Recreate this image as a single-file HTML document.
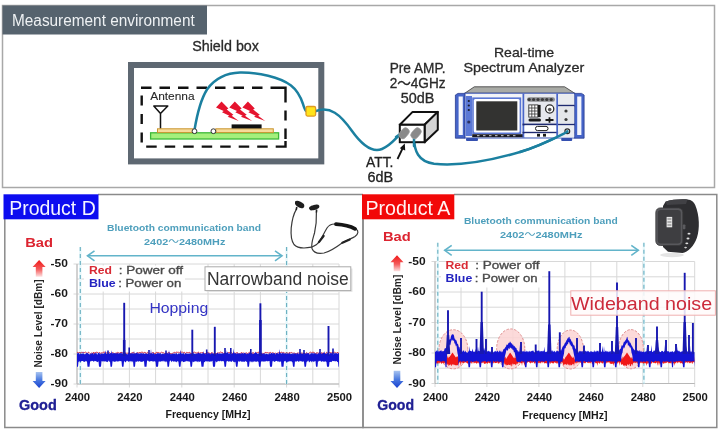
<!DOCTYPE html>
<html><head><meta charset="utf-8"><title>Measurement environment</title>
<style>
html,body{margin:0;padding:0;background:#fff;}
body{width:720px;height:430px;overflow:hidden;}
svg{display:block;font-family:"Liberation Sans","Noto Sans CJK JP",sans-serif;}
</style></head><body>
<svg width="720" height="430" viewBox="0 0 720 430">
<defs>
<linearGradient id="guL" x1="0" y1="0" x2="0" y2="1"><stop offset="0" stop-color="#f01818"/><stop offset="0.55" stop-color="#f45a5a"/><stop offset="1" stop-color="#fde0e0"/></linearGradient>
<linearGradient id="gdL" x1="0" y1="0" x2="0" y2="1"><stop offset="0" stop-color="#a8c4f0"/><stop offset="0.5" stop-color="#4a7ae0"/><stop offset="1" stop-color="#1840d0"/></linearGradient>
<linearGradient id="guR" x1="0" y1="0" x2="0" y2="1"><stop offset="0" stop-color="#f01818"/><stop offset="0.55" stop-color="#f45a5a"/><stop offset="1" stop-color="#fde0e0"/></linearGradient>
<linearGradient id="gdR" x1="0" y1="0" x2="0" y2="1"><stop offset="0" stop-color="#a8c4f0"/><stop offset="0.5" stop-color="#4a7ae0"/><stop offset="1" stop-color="#1840d0"/></linearGradient>
</defs>
<rect width="720" height="430" fill="#fff"/>
<rect x="2.5" y="5.5" width="712" height="182" fill="#fff" stroke="#a8a8a8" stroke-width="1.5"/>
<rect x="2.5" y="5.5" width="204.5" height="29" fill="#56636e"/>
<text x="12" y="25.6" font-size="16" fill="#eef1f3" textLength="182.7" lengthAdjust="spacingAndGlyphs">Measurement environment</text>
<text x="192.2" y="51.3" font-size="14" fill="#2a2a2a" textLength="66.8" lengthAdjust="spacingAndGlyphs" stroke="#2a2a2a" stroke-width="0.3">Shield box</text>
<rect x="131" y="65" width="190.3" height="96.4" fill="#fff" stroke="#5e6872" stroke-width="6"/>
<path d="M141.0,87.8 H151.5 M159.5,87.8 H170.0 M178.0,87.8 H188.5 M196.5,87.8 H207.0 M215.0,87.8 H225.5 M233.5,87.8 H244.0 M252.0,87.8 H262.5 M270.5,87.8 H285.5 V102.4 M285.5,110.5 V120.5 M285.5,128.5 V139 M146.2,146.6 H156.7 M164.7,146.6 H175.2 M183.2,146.6 H193.7 M201.7,146.6 H212.2 M220.2,146.6 H230.7 M238.7,146.6 H249.2 M257.2,146.6 H267.7 M275.7,146.6 H285.5 V141 M141.7,95.5 V105.5 M141.7,114 V124 M141.7,132.5 V142.5" fill="none" stroke="#111" stroke-width="2.4"/>
<text x="150.2" y="99.8" font-size="11" fill="#2a2a2a" textLength="44.4" lengthAdjust="spacingAndGlyphs" stroke="#2a2a2a" stroke-width="0.1">Antenna</text>
<path d="M153.8,106 L167.8,106 L160.5,113.5 Z M160.5,113.5 L160.5,128.8" fill="none" stroke="#111" stroke-width="1.5" stroke-linejoin="round"/>
<rect x="150.6" y="132.8" width="128" height="6.2" fill="#a4f07c" stroke="#3db83a" stroke-width="1.3"/>
<rect x="157.5" y="128.8" width="35.5" height="3.8" fill="#f7da9a" stroke="#c9952e" stroke-width="1"/>
<rect x="215.8" y="128.8" width="57.5" height="3.8" fill="#f7da9a" stroke="#c9952e" stroke-width="1"/>
<rect x="231.6" y="124.4" width="30" height="4" fill="#111"/>
<polygon points="216.0,107.6 221.5,101.6 228.4,108.4 226.7,109.5 233.4,114.8 231.7,115.8 238.8,121.0 227.6,116.8 229.3,115.7 222.0,112.2 223.7,111.1" fill="#e5142e"/>
<polygon points="229.3,107.6 234.8,101.6 241.7,108.4 240.0,109.5 246.7,114.8 245.0,115.8 252.1,121.0 240.9,116.8 242.6,115.7 235.3,112.2 237.0,111.1" fill="#e5142e"/>
<polygon points="242.4,107.6 247.9,101.6 254.8,108.4 253.1,109.5 259.8,114.8 258.1,115.8 265.2,121.0 254.0,116.8 255.7,115.7 248.4,112.2 250.1,111.1" fill="#e5142e"/>
<path d="M194.5,130 C196.8,116 199.8,101 207,89.5 C215,78.5 226,73 240,72.6 C258,72.3 280,77 291,85.5 C297.5,90.5 301,98 303,104 C304.2,108 305,111 307,111.6" fill="none" stroke="#1b80a0" stroke-width="2.5" stroke-linecap="round"/>
<path d="M316,111 C330,106 340,114 352,131 C362,145 372,153 382,149 C392,145 396,137 402,133" fill="none" stroke="#1b80a0" stroke-width="2.5" stroke-linecap="round"/>
<path d="M413.8,137 C414.3,151 418,161.5 434,163.8 C462,166.5 498,158.5 520,152 C540,146 555,138 567,132" fill="none" stroke="#1b80a0" stroke-width="2.5" stroke-linecap="round"/>
<circle cx="194.5" cy="131.2" r="2.4" fill="#fff" stroke="#333" stroke-width="1"/>
<circle cx="213.4" cy="131.2" r="2.4" fill="#fff" stroke="#333" stroke-width="1"/>
<rect x="306" y="106.5" width="9.6" height="9.6" rx="1.5" fill="#ffe41a" stroke="#e09a20" stroke-width="1.3"/>
<text x="417.6" y="72.6" font-size="14.2" fill="#2a2a2a" text-anchor="middle" textLength="55.9" lengthAdjust="spacingAndGlyphs" font-family="Liberation Sans, Noto Sans CJK JP, sans-serif" stroke="#2a2a2a" stroke-width="0.3">Pre AMP.</text>
<text x="417.6" y="87.6" font-size="14.2" fill="#2a2a2a" text-anchor="middle" textLength="55.9" lengthAdjust="spacingAndGlyphs" font-family="Liberation Sans, Noto Sans CJK JP, sans-serif" stroke="#2a2a2a" stroke-width="0.3">2～4GHz</text>
<text x="417.6" y="102.7" font-size="14.2" fill="#2a2a2a" text-anchor="middle" textLength="33.6" lengthAdjust="spacingAndGlyphs" font-family="Liberation Sans, Noto Sans CJK JP, sans-serif" stroke="#2a2a2a" stroke-width="0.3">50dB</text>
<text x="524" y="56.8" font-size="13.5" fill="#2a2a2a" text-anchor="middle" textLength="60.1" lengthAdjust="spacingAndGlyphs" stroke="#2a2a2a" stroke-width="0.3">Real-time</text>
<text x="523.8" y="71.6" font-size="13.5" fill="#2a2a2a" text-anchor="middle" textLength="120.8" lengthAdjust="spacingAndGlyphs" stroke="#2a2a2a" stroke-width="0.3">Spectrum Analyzer</text>
<text x="366.0" y="166.8" font-size="14" fill="#222" textLength="27.4" lengthAdjust="spacingAndGlyphs" stroke="#222" stroke-width="0.3">ATT.</text>
<text x="367.5" y="181.6" font-size="14" fill="#222" textLength="25.6" lengthAdjust="spacingAndGlyphs" stroke="#222" stroke-width="0.3">6dB</text>
<path d="M412.6,111.9 L437.8,111.9 L424.6,124.8 L399.8,124.8 Z" fill="#fff" stroke="#111" stroke-width="2" stroke-linejoin="round"/>
<path d="M424.6,124.8 L437.8,111.9 L437.8,129.8 L424.6,142.2 Z" fill="#d4d4d4" stroke="#111" stroke-width="2" stroke-linejoin="round"/>
<rect x="399.8" y="124.8" width="24.8" height="17.4" fill="#fff" stroke="#111" stroke-width="2"/>
<path d="M396,137 C398,135.5 400,134 403,133" fill="none" stroke="#1b80a0" stroke-width="2.5" stroke-linecap="round"/>
<path d="M414.5,134 C414,138 413.9,142 414,146" fill="none" stroke="#1b80a0" stroke-width="2.5" stroke-linecap="round"/>
<rect x="400.3" y="127.3" width="7.6" height="12" rx="3.8" fill="#8a8a8a" stroke="#a0a0a0" stroke-width="0.6" transform="rotate(40 404.1 133.3)"/>
<rect x="412.2" y="127.3" width="7.6" height="12" rx="3.8" fill="#8a8a8a" stroke="#a0a0a0" stroke-width="0.6" transform="rotate(40 416 133.3)"/>
<path d="M397.5,159 L403.5,146.5" stroke="#111" stroke-width="1.8"/>
<path d="M404.8,143.5 L399.8,148.2 L405.2,150.4 Z" fill="#111"/>
<g>
<path d="M474.3,86.8 L564.6,86.8 L574.6,93.2 L464.8,93.2 Z" fill="#a9aba6" stroke="#4a4a4a" stroke-width="0.9" stroke-linejoin="round"/>
<rect x="464.8" y="93.2" width="109.8" height="44.8" fill="#f2f4f8" stroke="#3a56b8" stroke-width="1"/>
<path d="M455.4,95 L458,93.4 L464.8,93.4 L464.8,138.2 L455.4,138.2 Z" fill="#4564c8" stroke="#2a3c90" stroke-width="0.8"/>
<rect x="458.6" y="96.5" width="4.2" height="38.5" fill="#f4f6fc"/>
<path d="M574.6,93.4 L581.5,93.4 L584.1,95 L584.1,138.2 L574.6,138.2 Z" fill="#4564c8" stroke="#2a3c90" stroke-width="0.8"/>
<rect x="577.2" y="96.5" width="4.2" height="38.5" fill="#f4f6fc"/>
<rect x="465.6" y="96" width="6.4" height="40" fill="#5b78d6"/>
<circle cx="468.8" cy="101" r="1.1" fill="#1a1a2a"/><circle cx="468.8" cy="105.5" r="1.1" fill="#1a1a2a"/><circle cx="468.8" cy="110" r="1.1" fill="#1a1a2a"/><circle cx="468.8" cy="122" r="1.6" fill="#2a3060"/>
<rect x="472.2" y="97.4" width="49" height="36.6" fill="#5a76d4"/>
<rect x="473.8" y="99" width="45.8" height="33.4" rx="1.5" fill="#fff"/>
<rect x="476.3" y="101.3" width="41" height="29.2" fill="#333331"/>
<rect x="472.2" y="134.2" width="51" height="3" fill="#1a1a22"/>
<path d="M477,135.7 h2.5 M483,135.7 h2.5 M489,135.7 h2.5 M495,135.7 h2.5 M501,135.7 h2.5 M507,135.7 h2.5 M513,135.7 h2.5" stroke="#e8e8e8" stroke-width="0.9"/>
<rect x="522.5" y="93.6" width="2" height="44" fill="#4a66c8"/>
<rect x="524.5" y="94.2" width="32" height="30" fill="#e6e8ee"/>
<rect x="527" y="97.3" width="28" height="4.4" rx="2.2" fill="#8a8c90"/>
<circle cx="529.2" cy="99.5" r="1.6" fill="#3a3a3a"/><circle cx="533.6" cy="99.5" r="1.6" fill="#3a3a3a"/><circle cx="538" cy="99.5" r="1.6" fill="#3a3a3a"/><circle cx="542.4" cy="99.5" r="1.6" fill="#3a3a3a"/><circle cx="546.8" cy="99.5" r="1.6" fill="#3a3a3a"/><circle cx="551.2" cy="99.5" r="1.6" fill="#3a3a3a"/>
<rect x="528.8" y="104.9" width="9" height="12.2" fill="#fff" stroke="#333" stroke-width="0.9"/>
<path d="M531.8,105 v12 M534.8,105 v12 M528.8,108 h9 M528.8,111 h9 M528.8,114 h9" stroke="#333" stroke-width="0.8"/>
<rect x="538" y="104.9" width="2.6" height="12.2" fill="#1a1a1a"/>
<circle cx="549.7" cy="109" r="4.1" fill="#fff" stroke="#2a2a2a" stroke-width="1.3"/>
<circle cx="549.7" cy="109.6" r="1.8" fill="#555"/>
<rect x="528.5" y="118.6" width="12.5" height="3" rx="1.5" fill="#1a1a1a"/>
<path d="M545.5,120 h8 M549.5,117.3 v5.4" stroke="#1a1a1a" stroke-width="1.8"/>
<rect x="522.5" y="123.6" width="52" height="1.8" fill="#1e2a70"/>
<rect x="524.5" y="125.4" width="32" height="6.6" fill="#fff"/>
<rect x="535.5" y="126.4" width="12.5" height="4.2" rx="2" fill="#fff" stroke="#1a1a1a" stroke-width="1"/>
<rect x="522.5" y="131.8" width="52" height="1.6" fill="#1e2a70"/>
<rect x="524.5" y="133.4" width="32" height="3.6" fill="#fff"/>
<rect x="537" y="133.8" width="3" height="2.8" fill="#1a1a1a"/><rect x="543" y="133.8" width="3" height="2.8" fill="#1a1a1a"/>
<rect x="556.3" y="93.6" width="1.8" height="44" fill="#4a66c8"/>
<rect x="558.1" y="94.2" width="16.2" height="11" fill="#e9ebef"/>
<rect x="558.1" y="104.8" width="16.2" height="1.6" fill="#1e2a70"/>
<rect x="558.1" y="106.4" width="16.2" height="17.2" fill="#e4e6ea"/>
<circle cx="566" cy="111" r="1.6" fill="#3a3a3a"/><circle cx="566" cy="119.5" r="1.6" fill="#3a3a3a"/>
<rect x="558.1" y="125.4" width="16.2" height="12" fill="#eceef2"/>
<circle cx="567.3" cy="131.2" r="2.4" fill="#fff" stroke="#2a2a2a" stroke-width="1.2"/>
<rect x="466" y="138" width="12" height="3" rx="1" fill="#3550b0"/><rect x="561.2" y="138" width="11" height="3" rx="1" fill="#3550b0"/>
</g>
<path d="M520,152 C540,146 555,138 567,132" fill="none" stroke="#1b80a0" stroke-width="2.5" stroke-linecap="round"/>
<circle cx="567.3" cy="131.4" r="1.3" fill="#1b80a0"/>
<path d="M4.8,219 L4.8,427.6 L363,427.6 L363,219" fill="none" stroke="#8a8a8a" stroke-width="1.5"/>
<path d="M98,194.6 L363,194.6" fill="none" stroke="#8a8a8a" stroke-width="1.5"/>
<path d="M363,219 L363,427.6 L716.8,427.6 L716.8,194.6 L454,194.6" fill="none" stroke="#8a8a8a" stroke-width="1.5"/>
<rect x="3.5" y="194.3" width="95" height="25" fill="#0c0cf0"/>
<text x="9.2" y="215.3" font-size="20.5" fill="#f4f4ff" textLength="86.5" lengthAdjust="spacingAndGlyphs">Product D</text>
<rect x="362" y="194.3" width="92.3" height="25" fill="#f20808"/>
<text x="365.4" y="215.3" font-size="20.5" fill="#fff4f4" textLength="85" lengthAdjust="spacingAndGlyphs">Product A</text>
<line x1="77.0" y1="264.0" x2="77.0" y2="387.5" stroke="#d8d8d8" stroke-width="1"/>
<line x1="103.2" y1="264.0" x2="103.2" y2="384.0" stroke="#d8d8d8" stroke-width="1"/>
<line x1="129.4" y1="264.0" x2="129.4" y2="387.5" stroke="#d8d8d8" stroke-width="1"/>
<line x1="155.6" y1="264.0" x2="155.6" y2="384.0" stroke="#d8d8d8" stroke-width="1"/>
<line x1="181.8" y1="264.0" x2="181.8" y2="387.5" stroke="#d8d8d8" stroke-width="1"/>
<line x1="208.0" y1="264.0" x2="208.0" y2="384.0" stroke="#d8d8d8" stroke-width="1"/>
<line x1="234.2" y1="264.0" x2="234.2" y2="387.5" stroke="#d8d8d8" stroke-width="1"/>
<line x1="260.4" y1="264.0" x2="260.4" y2="384.0" stroke="#d8d8d8" stroke-width="1"/>
<line x1="286.6" y1="264.0" x2="286.6" y2="387.5" stroke="#d8d8d8" stroke-width="1"/>
<line x1="312.8" y1="264.0" x2="312.8" y2="384.0" stroke="#d8d8d8" stroke-width="1"/>
<line x1="339.0" y1="264.0" x2="339.0" y2="387.5" stroke="#d8d8d8" stroke-width="1"/>
<line x1="73.5" y1="264.0" x2="339.0" y2="264.0" stroke="#d8d8d8" stroke-width="1"/>
<line x1="77.0" y1="279.0" x2="339.0" y2="279.0" stroke="#d8d8d8" stroke-width="1"/>
<line x1="73.5" y1="294.0" x2="339.0" y2="294.0" stroke="#d8d8d8" stroke-width="1"/>
<line x1="77.0" y1="309.0" x2="339.0" y2="309.0" stroke="#d8d8d8" stroke-width="1"/>
<line x1="73.5" y1="324.0" x2="339.0" y2="324.0" stroke="#d8d8d8" stroke-width="1"/>
<line x1="77.0" y1="339.0" x2="339.0" y2="339.0" stroke="#d8d8d8" stroke-width="1"/>
<line x1="73.5" y1="354.0" x2="339.0" y2="354.0" stroke="#d8d8d8" stroke-width="1"/>
<line x1="77.0" y1="369.0" x2="339.0" y2="369.0" stroke="#d8d8d8" stroke-width="1"/>
<line x1="73.5" y1="384.0" x2="339.0" y2="384.0" stroke="#d8d8d8" stroke-width="1"/>
<line x1="77.0" y1="264.0" x2="77.0" y2="384.0" stroke="#b8b8b8" stroke-width="1"/>
<line x1="77.0" y1="384.0" x2="339.0" y2="384.0" stroke="#b8b8b8" stroke-width="1"/>
<text x="67.8" y="267.4" font-size="11.5" fill="#1a1a1a" font-weight="bold" text-anchor="end" textLength="17.3" lengthAdjust="spacingAndGlyphs">-50</text>
<text x="67.8" y="297.4" font-size="11.5" fill="#1a1a1a" font-weight="bold" text-anchor="end" textLength="17.3" lengthAdjust="spacingAndGlyphs">-60</text>
<text x="67.8" y="327.4" font-size="11.5" fill="#1a1a1a" font-weight="bold" text-anchor="end" textLength="17.3" lengthAdjust="spacingAndGlyphs">-70</text>
<text x="67.8" y="357.4" font-size="11.5" fill="#1a1a1a" font-weight="bold" text-anchor="end" textLength="17.3" lengthAdjust="spacingAndGlyphs">-80</text>
<text x="67.8" y="387.4" font-size="11.5" fill="#1a1a1a" font-weight="bold" text-anchor="end" textLength="17.3" lengthAdjust="spacingAndGlyphs">-90</text>
<text x="77.5" y="401.3" font-size="11.5" fill="#1a1a1a" font-weight="bold" text-anchor="middle" textLength="25.2" lengthAdjust="spacingAndGlyphs">2400</text>
<text x="129.9" y="401.3" font-size="11.5" fill="#1a1a1a" font-weight="bold" text-anchor="middle" textLength="25.2" lengthAdjust="spacingAndGlyphs">2420</text>
<text x="182.3" y="401.3" font-size="11.5" fill="#1a1a1a" font-weight="bold" text-anchor="middle" textLength="25.2" lengthAdjust="spacingAndGlyphs">2440</text>
<text x="234.7" y="401.3" font-size="11.5" fill="#1a1a1a" font-weight="bold" text-anchor="middle" textLength="25.2" lengthAdjust="spacingAndGlyphs">2460</text>
<text x="287.1" y="401.3" font-size="11.5" fill="#1a1a1a" font-weight="bold" text-anchor="middle" textLength="25.2" lengthAdjust="spacingAndGlyphs">2480</text>
<text x="339.5" y="401.3" font-size="11.5" fill="#1a1a1a" font-weight="bold" text-anchor="middle" textLength="25.2" lengthAdjust="spacingAndGlyphs">2500</text>
<text x="208.0" y="417.5" font-size="10.5" fill="#1a1a1a" font-weight="bold" text-anchor="middle" textLength="85.1" lengthAdjust="spacingAndGlyphs">Frequency [MHz]</text>
<line x1="435.0" y1="261.5" x2="435.0" y2="387.0" stroke="#d8d8d8" stroke-width="1"/>
<line x1="461.0" y1="261.5" x2="461.0" y2="383.5" stroke="#d8d8d8" stroke-width="1"/>
<line x1="486.9" y1="261.5" x2="486.9" y2="387.0" stroke="#d8d8d8" stroke-width="1"/>
<line x1="512.9" y1="261.5" x2="512.9" y2="383.5" stroke="#d8d8d8" stroke-width="1"/>
<line x1="538.9" y1="261.5" x2="538.9" y2="387.0" stroke="#d8d8d8" stroke-width="1"/>
<line x1="564.9" y1="261.5" x2="564.9" y2="383.5" stroke="#d8d8d8" stroke-width="1"/>
<line x1="590.8" y1="261.5" x2="590.8" y2="387.0" stroke="#d8d8d8" stroke-width="1"/>
<line x1="616.8" y1="261.5" x2="616.8" y2="383.5" stroke="#d8d8d8" stroke-width="1"/>
<line x1="642.8" y1="261.5" x2="642.8" y2="387.0" stroke="#d8d8d8" stroke-width="1"/>
<line x1="668.7" y1="261.5" x2="668.7" y2="383.5" stroke="#d8d8d8" stroke-width="1"/>
<line x1="694.7" y1="261.5" x2="694.7" y2="387.0" stroke="#d8d8d8" stroke-width="1"/>
<line x1="431.5" y1="261.5" x2="694.7" y2="261.5" stroke="#d8d8d8" stroke-width="1"/>
<line x1="435.0" y1="276.8" x2="694.7" y2="276.8" stroke="#d8d8d8" stroke-width="1"/>
<line x1="431.5" y1="292.0" x2="694.7" y2="292.0" stroke="#d8d8d8" stroke-width="1"/>
<line x1="435.0" y1="307.2" x2="694.7" y2="307.2" stroke="#d8d8d8" stroke-width="1"/>
<line x1="431.5" y1="322.5" x2="694.7" y2="322.5" stroke="#d8d8d8" stroke-width="1"/>
<line x1="435.0" y1="337.8" x2="694.7" y2="337.8" stroke="#d8d8d8" stroke-width="1"/>
<line x1="431.5" y1="353.0" x2="694.7" y2="353.0" stroke="#d8d8d8" stroke-width="1"/>
<line x1="435.0" y1="368.2" x2="694.7" y2="368.2" stroke="#d8d8d8" stroke-width="1"/>
<line x1="431.5" y1="383.5" x2="694.7" y2="383.5" stroke="#d8d8d8" stroke-width="1"/>
<line x1="435.0" y1="261.5" x2="435.0" y2="383.5" stroke="#b8b8b8" stroke-width="1"/>
<line x1="435.0" y1="383.5" x2="694.7" y2="383.5" stroke="#b8b8b8" stroke-width="1"/>
<text x="425.6" y="264.7" font-size="11.5" fill="#1a1a1a" font-weight="bold" text-anchor="end" textLength="17.3" lengthAdjust="spacingAndGlyphs">-50</text>
<text x="425.6" y="295.2" font-size="11.5" fill="#1a1a1a" font-weight="bold" text-anchor="end" textLength="17.3" lengthAdjust="spacingAndGlyphs">-60</text>
<text x="425.6" y="325.7" font-size="11.5" fill="#1a1a1a" font-weight="bold" text-anchor="end" textLength="17.3" lengthAdjust="spacingAndGlyphs">-70</text>
<text x="425.6" y="356.2" font-size="11.5" fill="#1a1a1a" font-weight="bold" text-anchor="end" textLength="17.3" lengthAdjust="spacingAndGlyphs">-80</text>
<text x="425.6" y="386.7" font-size="11.5" fill="#1a1a1a" font-weight="bold" text-anchor="end" textLength="17.3" lengthAdjust="spacingAndGlyphs">-90</text>
<text x="435.5" y="401" font-size="11.5" fill="#1a1a1a" font-weight="bold" text-anchor="middle" textLength="25.2" lengthAdjust="spacingAndGlyphs">2400</text>
<text x="487.4" y="401" font-size="11.5" fill="#1a1a1a" font-weight="bold" text-anchor="middle" textLength="25.2" lengthAdjust="spacingAndGlyphs">2420</text>
<text x="539.4" y="401" font-size="11.5" fill="#1a1a1a" font-weight="bold" text-anchor="middle" textLength="25.2" lengthAdjust="spacingAndGlyphs">2440</text>
<text x="591.3" y="401" font-size="11.5" fill="#1a1a1a" font-weight="bold" text-anchor="middle" textLength="25.2" lengthAdjust="spacingAndGlyphs">2460</text>
<text x="643.3" y="401" font-size="11.5" fill="#1a1a1a" font-weight="bold" text-anchor="middle" textLength="25.2" lengthAdjust="spacingAndGlyphs">2480</text>
<text x="695.2" y="401" font-size="11.5" fill="#1a1a1a" font-weight="bold" text-anchor="middle" textLength="25.2" lengthAdjust="spacingAndGlyphs">2500</text>
<text x="564.9" y="418.7" font-size="10.5" fill="#1a1a1a" font-weight="bold" text-anchor="middle" textLength="85.1" lengthAdjust="spacingAndGlyphs">Frequency [MHz]</text>
<text x="25.2" y="247" font-size="13.5" fill="#dc2430" font-weight="bold" textLength="27.8" lengthAdjust="spacingAndGlyphs">Bad</text>
<text x="19.0" y="410.2" font-size="14.5" fill="#202094" font-weight="bold" textLength="37.8" lengthAdjust="spacingAndGlyphs" stroke="#202094" stroke-width="0.3">Good</text>
<path d="M32.6,267.0 L39.1,260.0 L45.6,267.0 L42.4,267.0 L42.4,276.7 L35.8,276.7 L35.8,267.0 Z" fill="url(#guL)"/>
<path d="M32.6,381.1 L39.1,388.1 L45.6,381.1 L42.4,381.1 L42.4,371.9 L35.8,371.9 L35.8,381.1 Z" fill="url(#gdL)"/>
<text transform="translate(41.8 323.5) rotate(-90)" font-size="10" font-weight="bold" fill="#262626" text-anchor="middle" textLength="88" lengthAdjust="spacingAndGlyphs">Noise Level [dBm]</text>
<text x="383.0" y="240.8" font-size="13.5" fill="#dc2430" font-weight="bold" textLength="27.8" lengthAdjust="spacingAndGlyphs">Bad</text>
<text x="377.3" y="410.2" font-size="14.5" fill="#202094" font-weight="bold" textLength="36.8" lengthAdjust="spacingAndGlyphs" stroke="#202094" stroke-width="0.3">Good</text>
<path d="M390.5,262.3 L397.0,255.3 L403.5,262.3 L400.3,262.3 L400.3,271.2 L393.7,271.2 L393.7,262.3 Z" fill="url(#guR)"/>
<path d="M390.5,381.0 L397.0,388.0 L403.5,381.0 L400.3,381.0 L400.3,370.7 L393.7,370.7 L393.7,381.0 Z" fill="url(#gdR)"/>
<text transform="translate(400.6 319.5) rotate(-90)" font-size="10" font-weight="bold" fill="#262626" text-anchor="middle" textLength="89.8" lengthAdjust="spacingAndGlyphs">Noise Level [dBm]</text>
<g><line x1="80.3" y1="247" x2="80.3" y2="384.0" stroke="#e6f7fb" stroke-width="2.4"/><line x1="80.3" y1="247" x2="80.3" y2="384.0" stroke="#68afc0" stroke-width="1.1" stroke-dasharray="4 3"/></g>
<g><line x1="286.6" y1="247" x2="286.6" y2="384.0" stroke="#e6f7fb" stroke-width="2.4"/><line x1="286.6" y1="247" x2="286.6" y2="384.0" stroke="#68afc0" stroke-width="1.1" stroke-dasharray="4 3"/></g>
<g><line x1="437.8" y1="242.8" x2="437.8" y2="383.5" stroke="#e6f7fb" stroke-width="2.4"/><line x1="437.8" y1="242.8" x2="437.8" y2="383.5" stroke="#68afc0" stroke-width="1.1" stroke-dasharray="4 3"/></g>
<g><line x1="643.9" y1="242.8" x2="643.9" y2="383.5" stroke="#e6f7fb" stroke-width="2.4"/><line x1="643.9" y1="242.8" x2="643.9" y2="383.5" stroke="#68afc0" stroke-width="1.1" stroke-dasharray="4 3"/></g>
<polyline points="77.0,352.6 77.8,352.3 78.6,353.3 79.4,352.1 80.2,353.1 81.0,352.7 81.8,352.1 82.6,353.0 83.4,352.1 84.2,352.9 85.0,352.1 85.8,352.2 86.6,352.8 87.4,353.7 88.2,352.2 89.0,352.4 89.8,353.3 90.6,353.9 91.4,353.2 92.2,352.8 93.0,354.0 93.8,352.1 94.6,353.7 95.4,352.6 96.2,352.3 97.0,352.2 97.8,352.6 98.6,353.6 99.4,352.4 100.2,353.2 101.0,353.3 101.8,352.7 102.6,353.1 103.4,352.1 104.2,352.1 105.0,352.4 105.8,353.4 106.6,352.9 107.4,352.6 108.2,353.2 109.0,352.9 109.8,352.6 110.6,353.6 111.4,353.4 112.2,352.5 113.0,353.1 113.8,353.1 114.6,353.8 115.4,353.5 116.2,352.6 117.0,354.0 117.8,352.2 118.6,352.8 119.4,353.5 120.2,352.3 121.0,353.0 121.8,352.1 122.6,353.3 123.4,353.5 124.2,353.1 125.0,353.8 125.8,352.6 126.6,353.4 127.4,353.2 128.2,353.2 129.0,352.9 129.8,353.7 130.6,353.9 131.4,352.9 132.2,353.3 133.0,352.1 133.8,353.4 134.6,353.3 135.4,354.0 136.2,353.6 137.0,352.6 137.8,352.8 138.6,353.3 139.4,352.0 140.2,352.9 141.0,352.3 141.8,352.2 142.6,352.1 143.4,353.5 144.2,352.3 145.0,352.5 145.8,352.8 146.6,353.7 147.4,352.2 148.2,352.9 149.0,353.1 149.8,353.8 150.6,353.6 151.4,353.7 152.2,352.6 153.0,352.8 153.8,352.7 154.6,353.8 155.4,353.9 156.2,352.3 157.0,352.4 157.8,352.5 158.6,352.5 159.4,353.0 160.2,353.2 161.0,352.5 161.8,352.0 162.6,352.8 163.4,352.7 164.2,353.1 165.0,353.9 165.8,353.4 166.6,353.0 167.4,353.2 168.2,353.4 169.0,352.1 169.8,353.8 170.6,353.6 171.4,353.7 172.2,353.6 173.0,352.8 173.8,352.8 174.6,352.2 175.4,353.3 176.2,352.1 177.0,352.1 177.8,352.4 178.6,352.3 179.4,352.7 180.2,352.1 181.0,352.0 181.8,352.3 182.6,352.2 183.4,352.7 184.2,352.1 185.0,353.7 185.8,353.2 186.6,352.3 187.4,352.5 188.2,352.7 189.0,352.7 189.8,352.2 190.6,353.7 191.4,354.0 192.2,352.9 193.0,353.0 193.8,352.2 194.6,352.2 195.4,352.7 196.2,352.5 197.0,353.7 197.8,352.3 198.6,352.0 199.4,353.9 200.2,353.1 201.0,352.3 201.8,353.1 202.6,352.1 203.4,353.1 204.2,354.0 205.0,353.7 205.8,353.4 206.6,352.5 207.4,352.7 208.2,352.3 209.0,353.5 209.8,353.1 210.6,353.6 211.4,352.7 212.2,352.4 213.0,353.6 213.8,354.0 214.6,353.7 215.4,353.6 216.2,353.6 217.0,353.5 217.8,352.5 218.6,353.0 219.4,352.7 220.2,352.1 221.0,352.1 221.8,352.6 222.6,352.5 223.4,353.4 224.2,353.9 225.0,352.9 225.8,353.9 226.6,354.0 227.4,353.9 228.2,352.7 229.0,352.4 229.8,352.5 230.6,352.4 231.4,352.4 232.2,353.2 233.0,353.8 233.8,353.7 234.6,353.0 235.4,353.3 236.2,353.6 237.0,352.2 237.8,353.3 238.6,353.8 239.4,353.6 240.2,353.5 241.0,353.0 241.8,352.4 242.6,353.6 243.4,352.7 244.2,353.6 245.0,353.9 245.8,352.8 246.6,352.8 247.4,353.9 248.2,353.4 249.0,352.3 249.8,352.3 250.6,352.3 251.4,353.8 252.2,353.6 253.0,352.3 253.8,353.7 254.6,354.0 255.4,353.3 256.2,352.7 257.0,353.1 257.8,352.3 258.6,352.0 259.4,353.9 260.2,353.3 261.0,353.1 261.8,353.9 262.6,352.9 263.4,353.7 264.2,353.7 265.0,352.4 265.8,352.5 266.6,352.6 267.4,352.5 268.2,353.2 269.0,352.5 269.8,352.8 270.6,352.3 271.4,353.8 272.2,352.7 273.0,352.9 273.8,353.2 274.6,353.8 275.4,352.8 276.2,353.8 277.0,353.0 277.8,353.1 278.6,353.0 279.4,352.0 280.2,352.9 281.0,352.4 281.8,352.0 282.6,353.6 283.4,352.3 284.2,352.9 285.0,353.5 285.8,353.1 286.6,352.7 287.4,353.0 288.2,353.1 289.0,353.6 289.8,352.2 290.6,353.1 291.4,352.5 292.2,352.6 293.0,353.5 293.8,353.0 294.6,353.1 295.4,353.5 296.2,353.8 297.0,352.9 297.8,353.2 298.6,353.0 299.4,353.0 300.2,353.4 301.0,352.9 301.8,353.1 302.6,353.0 303.4,353.9 304.2,353.4 305.0,353.8 305.8,353.9 306.6,352.5 307.4,353.1 308.2,353.9 309.0,353.7 309.8,352.3 310.6,352.2 311.4,352.9 312.2,352.1 313.0,352.5 313.8,352.1 314.6,353.3 315.4,353.6 316.2,353.8 317.0,352.3 317.8,353.4 318.6,353.3 319.4,352.3 320.2,353.8 321.0,353.9 321.8,352.4 322.6,353.9 323.4,352.8 324.2,353.0 325.0,354.0 325.8,353.7 326.6,352.3 327.4,352.9 328.2,353.0 329.0,352.7 329.8,352.4 330.6,352.6 331.4,353.4 332.2,352.0 333.0,353.1 333.8,352.9 334.6,352.0 335.4,352.7 336.2,353.2 337.0,353.0 337.8,352.1 338.6,354.0" fill="none" stroke="#c8203c" stroke-width="0.9"/>
<polygon points="77.0,353.0 77.5,353.3 78.0,353.7 78.5,352.6 79.0,353.1 79.5,354.4 80.0,354.1 80.5,353.8 81.0,353.7 81.5,353.5 82.0,353.8 82.5,354.0 83.0,351.1 83.5,353.5 84.0,354.2 84.5,354.3 85.0,354.0 85.5,354.3 86.0,352.8 86.5,353.0 87.0,353.4 87.5,353.1 88.0,353.3 88.5,353.7 89.0,354.2 89.5,354.3 90.0,354.4 90.5,352.9 91.0,354.3 91.5,353.6 92.0,353.0 92.5,353.6 93.0,352.7 93.5,354.4 94.0,354.0 94.5,352.9 95.0,354.0 95.5,352.7 96.0,352.7 96.5,353.2 97.0,354.4 97.5,354.4 98.0,352.7 98.5,352.7 99.0,353.3 99.5,352.9 100.0,354.2 100.5,354.3 101.0,353.3 101.5,353.5 102.0,353.7 102.5,353.7 103.0,353.5 103.5,353.9 104.0,353.1 104.5,353.5 105.0,352.6 105.5,350.3 106.0,353.7 106.5,353.7 107.0,353.8 107.5,353.9 108.0,352.6 108.5,353.8 109.0,353.1 109.5,353.7 110.0,353.3 110.5,353.3 111.0,353.1 111.5,350.2 112.0,353.9 112.5,353.0 113.0,353.0 113.5,353.4 114.0,352.8 114.5,353.2 115.0,353.4 115.5,352.9 116.0,353.8 116.5,353.4 117.0,352.8 117.5,352.9 118.0,354.1 118.5,353.1 119.0,353.8 119.5,353.2 120.0,353.1 120.5,353.1 121.0,353.4 121.5,353.3 122.0,351.3 122.5,354.2 123.0,353.4 123.5,354.3 124.0,353.9 124.5,353.8 125.0,353.1 125.5,353.0 126.0,353.7 126.5,354.1 127.0,354.2 127.5,354.3 128.0,354.2 128.5,352.6 129.0,352.9 129.5,353.8 130.0,353.3 130.5,353.7 131.0,353.1 131.5,353.5 132.0,353.2 132.5,353.6 133.0,352.9 133.5,354.3 134.0,350.4 134.5,354.2 135.0,353.1 135.5,353.5 136.0,353.5 136.5,352.6 137.0,352.8 137.5,352.7 138.0,354.1 138.5,353.5 139.0,353.2 139.5,353.8 140.0,353.2 140.5,353.2 141.0,353.6 141.5,353.3 142.0,352.9 142.5,353.7 143.0,353.3 143.5,353.7 144.0,353.3 144.5,353.9 145.0,353.8 145.5,353.0 146.0,353.9 146.5,353.4 147.0,354.2 147.5,353.3 148.0,354.0 148.5,353.4 149.0,354.1 149.5,354.2 150.0,353.8 150.5,353.6 151.0,348.9 151.5,354.0 152.0,352.8 152.5,354.2 153.0,352.6 153.5,352.8 154.0,353.8 154.5,354.3 155.0,354.0 155.5,354.0 156.0,353.9 156.5,353.9 157.0,352.7 157.5,353.6 158.0,353.0 158.5,353.0 159.0,354.0 159.5,353.3 160.0,353.2 160.5,352.7 161.0,354.4 161.5,353.9 162.0,353.8 162.5,353.8 163.0,353.5 163.5,354.2 164.0,352.8 164.5,354.2 165.0,353.4 165.5,352.9 166.0,353.0 166.5,353.2 167.0,353.8 167.5,353.1 168.0,353.3 168.5,353.7 169.0,349.9 169.5,353.3 170.0,353.2 170.5,354.0 171.0,354.4 171.5,353.7 172.0,354.1 172.5,353.6 173.0,353.9 173.5,353.3 174.0,354.3 174.5,353.0 175.0,353.9 175.5,354.3 176.0,353.0 176.5,353.1 177.0,353.9 177.5,354.2 178.0,354.2 178.5,353.4 179.0,352.8 179.5,354.1 180.0,353.2 180.5,349.5 181.0,353.4 181.5,353.0 182.0,354.3 182.5,353.6 183.0,353.1 183.5,352.8 184.0,354.2 184.5,354.3 185.0,354.0 185.5,353.1 186.0,353.8 186.5,353.1 187.0,354.3 187.5,353.6 188.0,353.5 188.5,353.9 189.0,353.6 189.5,353.8 190.0,352.9 190.5,353.8 191.0,354.3 191.5,353.2 192.0,353.7 192.5,353.8 193.0,353.2 193.5,352.7 194.0,354.0 194.5,353.9 195.0,353.1 195.5,354.2 196.0,353.5 196.5,354.0 197.0,353.2 197.5,353.6 198.0,353.2 198.5,352.8 199.0,352.8 199.5,354.0 200.0,352.9 200.5,353.3 201.0,354.1 201.5,353.7 202.0,353.3 202.5,353.5 203.0,353.0 203.5,350.9 204.0,354.2 204.5,353.3 205.0,353.6 205.5,354.4 206.0,353.1 206.5,353.5 207.0,350.8 207.5,353.8 208.0,353.5 208.5,352.9 209.0,352.7 209.5,353.8 210.0,353.6 210.5,354.2 211.0,354.0 211.5,352.7 212.0,353.0 212.5,353.6 213.0,353.2 213.5,353.9 214.0,354.1 214.5,354.3 215.0,353.9 215.5,354.1 216.0,354.2 216.5,354.0 217.0,352.8 217.5,352.7 218.0,352.9 218.5,353.9 219.0,353.4 219.5,353.1 220.0,354.0 220.5,352.9 221.0,353.9 221.5,353.3 222.0,353.7 222.5,352.6 223.0,354.0 223.5,353.4 224.0,353.0 224.5,353.3 225.0,352.6 225.5,352.9 226.0,349.8 226.5,353.3 227.0,352.7 227.5,351.4 228.0,353.0 228.5,353.5 229.0,353.7 229.5,352.8 230.0,353.9 230.5,354.0 231.0,354.3 231.5,353.0 232.0,354.1 232.5,353.2 233.0,353.8 233.5,348.6 234.0,352.8 234.5,352.7 235.0,353.8 235.5,353.0 236.0,353.5 236.5,354.3 237.0,352.7 237.5,353.7 238.0,352.8 238.5,354.1 239.0,353.3 239.5,353.8 240.0,352.9 240.5,353.9 241.0,353.6 241.5,353.3 242.0,353.0 242.5,353.5 243.0,352.9 243.5,353.7 244.0,353.3 244.5,352.9 245.0,352.6 245.5,354.0 246.0,352.8 246.5,354.1 247.0,354.2 247.5,353.4 248.0,353.9 248.5,353.3 249.0,353.3 249.5,352.8 250.0,352.8 250.5,353.8 251.0,352.7 251.5,353.8 252.0,352.6 252.5,354.3 253.0,353.6 253.5,354.0 254.0,354.0 254.5,352.9 255.0,352.7 255.5,351.4 256.0,353.0 256.5,352.8 257.0,353.0 257.5,353.7 258.0,354.0 258.5,353.2 259.0,353.4 259.5,354.1 260.0,354.1 260.5,353.6 261.0,353.9 261.5,353.2 262.0,352.7 262.5,353.9 263.0,353.8 263.5,353.0 264.0,354.4 264.5,353.4 265.0,353.0 265.5,354.3 266.0,354.2 266.5,353.7 267.0,353.6 267.5,354.3 268.0,354.3 268.5,354.0 269.0,354.4 269.5,353.1 270.0,352.9 270.5,353.9 271.0,353.5 271.5,352.7 272.0,353.1 272.5,353.2 273.0,353.9 273.5,352.8 274.0,353.3 274.5,352.9 275.0,353.9 275.5,354.4 276.0,353.3 276.5,353.2 277.0,353.5 277.5,353.2 278.0,353.1 278.5,354.2 279.0,353.1 279.5,348.9 280.0,353.6 280.5,352.9 281.0,353.0 281.5,353.4 282.0,354.0 282.5,352.7 283.0,352.6 283.5,353.2 284.0,353.6 284.5,353.2 285.0,354.0 285.5,353.1 286.0,353.4 286.5,353.8 287.0,354.1 287.5,352.8 288.0,354.0 288.5,354.1 289.0,353.1 289.5,352.6 290.0,354.2 290.5,353.4 291.0,354.3 291.5,353.7 292.0,353.5 292.5,352.9 293.0,354.4 293.5,353.3 294.0,353.4 294.5,353.4 295.0,352.9 295.5,353.5 296.0,354.1 296.5,354.3 297.0,352.7 297.5,353.6 298.0,353.1 298.5,354.2 299.0,353.8 299.5,353.5 300.0,354.3 300.5,353.0 301.0,352.9 301.5,354.1 302.0,353.1 302.5,354.3 303.0,353.3 303.5,352.8 304.0,354.4 304.5,353.0 305.0,352.7 305.5,353.9 306.0,353.7 306.5,352.6 307.0,354.3 307.5,353.1 308.0,353.1 308.5,352.7 309.0,354.3 309.5,354.2 310.0,354.4 310.5,353.8 311.0,352.7 311.5,352.9 312.0,354.1 312.5,352.7 313.0,353.6 313.5,352.8 314.0,354.4 314.5,352.8 315.0,352.8 315.5,354.2 316.0,352.9 316.5,354.4 317.0,353.0 317.5,354.3 318.0,353.9 318.5,352.6 319.0,353.9 319.5,353.6 320.0,353.6 320.5,353.6 321.0,353.0 321.5,354.3 322.0,352.9 322.5,354.1 323.0,353.1 323.5,352.7 324.0,353.3 324.5,351.1 325.0,354.0 325.5,353.8 326.0,354.0 326.5,353.6 327.0,352.9 327.5,353.2 328.0,353.3 328.5,353.2 329.0,354.4 329.5,354.2 330.0,353.1 330.5,353.1 331.0,353.5 331.5,353.2 332.0,353.1 332.5,353.4 333.0,353.6 333.5,354.4 334.0,353.4 334.5,352.7 335.0,354.1 335.5,352.7 336.0,353.3 336.5,353.3 337.0,353.6 337.5,353.4 338.0,353.9 338.5,353.1 339.0,353.3 339.0,366.8 338.5,366.8 338.0,361.8 337.5,362.2 337.0,361.7 336.5,360.9 336.0,361.0 335.5,361.3 335.0,361.7 334.5,360.9 334.0,360.7 333.5,361.2 333.0,361.1 332.5,360.7 332.0,361.6 331.5,362.3 331.0,361.6 330.5,361.9 330.0,362.1 329.5,362.1 329.0,366.8 328.5,366.8 328.0,366.8 327.5,366.8 327.0,366.8 326.5,362.2 326.0,361.4 325.5,361.8 325.0,360.8 324.5,362.2 324.0,361.3 323.5,361.5 323.0,362.2 322.5,361.1 322.0,360.9 321.5,362.1 321.0,361.7 320.5,360.8 320.0,360.7 319.5,361.2 319.0,360.6 318.5,362.1 318.0,360.9 317.5,366.8 317.0,366.8 316.5,366.8 316.0,366.8 315.5,361.1 315.0,361.3 314.5,361.5 314.0,361.4 313.5,361.7 313.0,361.8 312.5,361.4 312.0,360.8 311.5,362.4 311.0,361.8 310.5,360.8 310.0,361.4 309.5,362.0 309.0,362.4 308.5,360.7 308.0,360.6 307.5,361.5 307.0,361.4 306.5,362.2 306.0,366.8 305.5,366.8 305.0,366.8 304.5,366.8 304.0,362.1 303.5,361.2 303.0,361.4 302.5,361.6 302.0,362.2 301.5,361.0 301.0,361.3 300.5,360.8 300.0,361.8 299.5,360.6 299.0,362.3 298.5,361.5 298.0,361.6 297.5,360.8 297.0,361.0 296.5,361.4 296.0,362.1 295.5,361.6 295.0,361.1 294.5,366.8 294.0,366.8 293.5,366.8 293.0,366.8 292.5,362.4 292.0,361.8 291.5,361.6 291.0,361.0 290.5,361.1 290.0,362.2 289.5,360.8 289.0,361.6 288.5,361.7 288.0,361.2 287.5,362.0 287.0,362.2 286.5,362.1 286.0,361.9 285.5,361.0 285.0,360.7 284.5,361.4 284.0,361.2 283.5,366.8 283.0,366.8 282.5,366.8 282.0,366.8 281.5,366.8 281.0,360.9 280.5,362.2 280.0,361.0 279.5,362.1 279.0,362.3 278.5,360.8 278.0,362.2 277.5,361.3 277.0,361.0 276.5,360.9 276.0,360.7 275.5,361.5 275.0,361.3 274.5,362.1 274.0,362.1 273.5,360.7 273.0,361.3 272.5,361.3 272.0,366.8 271.5,366.8 271.0,366.8 270.5,366.8 270.0,366.8 269.5,360.9 269.0,361.1 268.5,361.1 268.0,361.8 267.5,361.2 267.0,360.8 266.5,361.0 266.0,361.4 265.5,361.6 265.0,361.0 264.5,361.9 264.0,361.0 263.5,361.8 263.0,361.7 262.5,360.9 262.0,362.0 261.5,361.3 261.0,361.6 260.5,366.8 260.0,366.8 259.5,366.8 259.0,366.8 258.5,361.7 258.0,361.7 257.5,361.4 257.0,360.7 256.5,362.0 256.0,362.1 255.5,361.5 255.0,361.6 254.5,361.1 254.0,362.2 253.5,361.8 253.0,361.0 252.5,362.1 252.0,362.4 251.5,361.2 251.0,362.4 250.5,361.5 250.0,360.9 249.5,361.9 249.0,366.8 248.5,366.8 248.0,366.8 247.5,366.8 247.0,361.2 246.5,361.9 246.0,361.7 245.5,360.8 245.0,361.6 244.5,362.1 244.0,361.5 243.5,361.6 243.0,362.2 242.5,361.4 242.0,361.5 241.5,361.6 241.0,362.1 240.5,361.0 240.0,360.8 239.5,362.0 239.0,361.6 238.5,361.1 238.0,362.2 237.5,366.8 237.0,366.8 236.5,366.8 236.0,366.8 235.5,362.2 235.0,361.6 234.5,362.4 234.0,362.1 233.5,361.9 233.0,361.1 232.5,360.6 232.0,361.8 231.5,361.9 231.0,361.2 230.5,361.5 230.0,361.6 229.5,361.0 229.0,361.9 228.5,361.6 228.0,361.3 227.5,360.8 227.0,361.6 226.5,361.2 226.0,366.8 225.5,366.8 225.0,366.8 224.5,366.8 224.0,361.9 223.5,360.9 223.0,361.3 222.5,361.0 222.0,361.3 221.5,361.6 221.0,360.8 220.5,360.7 220.0,361.5 219.5,361.0 219.0,361.5 218.5,360.9 218.0,360.8 217.5,361.6 217.0,362.3 216.5,362.2 216.0,361.5 215.5,361.3 215.0,366.8 214.5,366.8 214.0,366.8 213.5,366.8 213.0,366.8 212.5,360.7 212.0,361.1 211.5,361.2 211.0,362.3 210.5,360.8 210.0,362.3 209.5,361.5 209.0,361.4 208.5,361.1 208.0,362.3 207.5,360.9 207.0,361.6 206.5,361.5 206.0,361.0 205.5,361.0 205.0,362.4 204.5,362.0 204.0,361.9 203.5,366.8 203.0,366.8 202.5,366.8 202.0,366.8 201.5,366.8 201.0,362.2 200.5,360.8 200.0,361.9 199.5,362.0 199.0,361.0 198.5,361.4 198.0,362.4 197.5,361.2 197.0,362.0 196.5,360.9 196.0,361.8 195.5,361.1 195.0,361.5 194.5,361.3 194.0,362.2 193.5,361.9 193.0,361.5 192.5,361.8 192.0,366.8 191.5,366.8 191.0,366.8 190.5,366.8 190.0,361.4 189.5,362.0 189.0,361.1 188.5,361.6 188.0,361.7 187.5,361.3 187.0,360.7 186.5,360.9 186.0,361.8 185.5,361.0 185.0,362.0 184.5,361.5 184.0,362.3 183.5,362.1 183.0,361.9 182.5,361.3 182.0,360.7 181.5,361.6 181.0,361.9 180.5,366.8 180.0,366.8 179.5,366.8 179.0,366.8 178.5,362.3 178.0,361.0 177.5,360.9 177.0,362.4 176.5,361.9 176.0,361.5 175.5,361.9 175.0,360.9 174.5,361.6 174.0,361.8 173.5,361.7 173.0,360.9 172.5,360.8 172.0,361.7 171.5,362.2 171.0,360.8 170.5,360.6 170.0,360.7 169.5,362.0 169.0,366.8 168.5,366.8 168.0,366.8 167.5,366.8 167.0,361.3 166.5,361.4 166.0,362.4 165.5,361.7 165.0,361.1 164.5,361.9 164.0,360.6 163.5,361.1 163.0,361.9 162.5,360.9 162.0,360.7 161.5,361.5 161.0,361.2 160.5,362.3 160.0,360.8 159.5,362.0 159.0,361.3 158.5,362.0 158.0,366.8 157.5,366.8 157.0,366.8 156.5,366.8 156.0,366.8 155.5,361.4 155.0,361.8 154.5,361.2 154.0,361.0 153.5,361.4 153.0,362.0 152.5,361.2 152.0,361.0 151.5,361.3 151.0,360.8 150.5,361.2 150.0,361.6 149.5,361.6 149.0,361.7 148.5,361.1 148.0,360.6 147.5,360.6 147.0,361.2 146.5,366.8 146.0,366.8 145.5,366.8 145.0,366.8 144.5,366.8 144.0,361.0 143.5,361.6 143.0,361.1 142.5,362.0 142.0,361.7 141.5,361.8 141.0,361.9 140.5,361.5 140.0,361.4 139.5,361.2 139.0,360.7 138.5,362.0 138.0,361.5 137.5,360.8 137.0,362.3 136.5,361.6 136.0,361.7 135.5,361.4 135.0,366.8 134.5,366.8 134.0,366.8 133.5,366.8 133.0,360.8 132.5,362.4 132.0,360.9 131.5,361.3 131.0,362.4 130.5,360.8 130.0,361.5 129.5,361.5 129.0,361.0 128.5,362.3 128.0,361.3 127.5,360.6 127.0,361.5 126.5,360.6 126.0,361.9 125.5,362.2 125.0,362.2 124.5,360.7 124.0,361.8 123.5,366.8 123.0,366.8 122.5,366.8 122.0,366.8 121.5,361.1 121.0,361.5 120.5,361.1 120.0,361.1 119.5,360.8 119.0,361.7 118.5,360.8 118.0,362.3 117.5,360.7 117.0,362.3 116.5,360.9 116.0,360.8 115.5,361.9 115.0,361.6 114.5,362.0 114.0,361.5 113.5,361.7 113.0,360.7 112.5,361.8 112.0,366.8 111.5,366.8 111.0,366.8 110.5,366.8 110.0,361.5 109.5,362.3 109.0,360.6 108.5,360.7 108.0,361.8 107.5,362.3 107.0,361.4 106.5,361.9 106.0,361.6 105.5,361.3 105.0,361.4 104.5,361.7 104.0,360.7 103.5,361.2 103.0,361.9 102.5,361.1 102.0,361.5 101.5,361.1 101.0,366.8 100.5,366.8 100.0,366.8 99.5,366.8 99.0,366.8 98.5,361.2 98.0,361.8 97.5,361.9 97.0,362.3 96.5,361.5 96.0,361.0 95.5,361.2 95.0,360.7 94.5,361.0 94.0,361.7 93.5,361.7 93.0,361.0 92.5,360.9 92.0,360.8 91.5,360.9 91.0,361.5 90.5,361.1 90.0,362.2 89.5,366.8 89.0,366.8 88.5,366.8 88.0,366.8 87.5,366.8 87.0,361.6 86.5,361.2 86.0,361.4 85.5,360.7 85.0,361.9 84.5,362.0 84.0,361.3 83.5,361.9 83.0,361.1 82.5,361.0 82.0,361.0 81.5,361.0 81.0,361.7 80.5,361.8 80.0,361.9 79.5,360.8 79.0,362.0 78.5,361.5 78.0,366.8 77.5,366.8 77.0,366.8" fill="#1414d4"/>
<line x1="124.2" y1="302.8" x2="124.2" y2="356" stroke="#1818b0" stroke-width="1.9"/>
<line x1="192.3" y1="329.7" x2="192.3" y2="356" stroke="#1818b0" stroke-width="1.9"/>
<line x1="214.8" y1="326.8" x2="214.8" y2="356" stroke="#1818b0" stroke-width="1.9"/>
<line x1="260.4" y1="303.3" x2="260.4" y2="356" stroke="#1818b0" stroke-width="1.9"/>
<line x1="328.5" y1="326" x2="328.5" y2="356" stroke="#1818b0" stroke-width="1.9"/>
<line x1="129.2" y1="347.6" x2="129.2" y2="354" stroke="#1818b0" stroke-width="1.6"/>
<line x1="149.0" y1="350" x2="149.0" y2="354" stroke="#1818b0" stroke-width="1.6"/>
<line x1="206.7" y1="349.5" x2="206.7" y2="354" stroke="#1818b0" stroke-width="1.6"/>
<line x1="225.0" y1="348" x2="225.0" y2="354" stroke="#1818b0" stroke-width="1.6"/>
<line x1="230.8" y1="348" x2="230.8" y2="354" stroke="#1818b0" stroke-width="1.6"/>
<line x1="250.8" y1="349" x2="250.8" y2="354" stroke="#1818b0" stroke-width="1.6"/>
<line x1="300.0" y1="349" x2="300.0" y2="354" stroke="#1818b0" stroke-width="1.6"/>
<line x1="304.0" y1="350" x2="304.0" y2="354" stroke="#1818b0" stroke-width="1.6"/>
<line x1="320.0" y1="349" x2="320.0" y2="354" stroke="#1818b0" stroke-width="1.6"/>
<line x1="333.0" y1="348.5" x2="333.0" y2="354" stroke="#1818b0" stroke-width="1.6"/>
<line x1="166.0" y1="350.5" x2="166.0" y2="354" stroke="#1818b0" stroke-width="1.6"/>
<line x1="108.0" y1="350.5" x2="108.0" y2="354" stroke="#1818b0" stroke-width="1.6"/>
<line x1="124.2" y1="340" x2="124.2" y2="356" stroke="#1818b0" stroke-width="2.6"/>
<line x1="260.4" y1="320" x2="260.4" y2="356" stroke="#1818b0" stroke-width="2.6"/>
<ellipse cx="453.4" cy="349.3" rx="14.4" ry="19.6" fill="#fbd3d3" fill-opacity="0.85" stroke="#e09090" stroke-width="1" stroke-dasharray="2.5 1.5"/>
<ellipse cx="510.7" cy="348.9" rx="14.1" ry="20" fill="#fbd3d3" fill-opacity="0.85" stroke="#e09090" stroke-width="1" stroke-dasharray="2.5 1.5"/>
<ellipse cx="570.3" cy="349.5" rx="13.1" ry="19.5" fill="#fbd3d3" fill-opacity="0.85" stroke="#e09090" stroke-width="1" stroke-dasharray="2.5 1.5"/>
<ellipse cx="631" cy="349.2" rx="12.4" ry="19.6" fill="#fbd3d3" fill-opacity="0.85" stroke="#e09090" stroke-width="1" stroke-dasharray="2.5 1.5"/>
<polygon points="435.0,358.5 435.5,359.0 436.0,359.2 436.5,359.8 437.0,359.0 437.5,359.7 438.0,356.1 438.5,357.9 439.0,359.8 439.5,358.6 440.0,359.6 440.5,356.5 441.0,357.9 441.5,357.0 442.0,358.2 442.5,358.3 443.0,356.1 443.5,356.9 444.0,357.1 444.5,359.7 445.0,359.1 445.5,356.6 446.0,359.2 446.5,356.6 447.0,358.5 447.5,356.5 448.0,356.0 448.5,358.6 449.0,356.8 449.5,356.9 450.0,356.3 450.5,355.6 451.0,354.8 451.5,354.0 452.0,353.3 452.5,352.5 453.0,353.3 453.5,354.0 454.0,354.8 454.5,355.6 455.0,356.3 455.5,357.1 456.0,357.4 456.5,356.7 457.0,356.6 457.5,356.3 458.0,357.2 458.5,358.4 459.0,356.0 459.5,358.7 460.0,357.4 460.5,357.2 461.0,359.3 461.5,357.9 462.0,357.3 462.5,357.9 463.0,358.8 463.5,356.2 464.0,359.9 464.5,356.1 465.0,359.0 465.5,359.4 466.0,356.1 466.5,359.2 467.0,357.5 467.5,358.3 468.0,356.0 468.5,356.2 469.0,356.7 469.5,359.8 470.0,356.8 470.5,359.0 471.0,359.7 471.5,359.8 472.0,357.4 472.5,357.4 473.0,358.1 473.5,359.1 474.0,356.4 474.5,359.0 475.0,359.2 475.5,359.4 476.0,356.1 476.5,359.8 477.0,356.4 477.5,357.4 478.0,358.4 478.5,359.7 479.0,357.4 479.5,359.7 480.0,358.2 480.5,357.2 481.0,357.3 481.5,356.7 482.0,356.3 482.5,356.6 483.0,358.8 483.5,360.0 484.0,356.6 484.5,356.2 485.0,359.9 485.5,358.1 486.0,357.6 486.5,356.9 487.0,358.4 487.5,359.3 488.0,357.8 488.5,357.7 489.0,356.2 489.5,359.7 490.0,356.1 490.5,358.0 491.0,359.4 491.5,356.5 492.0,358.9 492.5,359.8 493.0,358.5 493.5,359.2 494.0,356.4 494.5,357.7 495.0,356.6 495.5,359.4 496.0,357.2 496.5,357.8 497.0,360.0 497.5,359.4 498.0,359.9 498.5,357.8 499.0,358.0 499.5,358.9 500.0,357.9 500.5,357.2 501.0,357.6 501.5,356.6 502.0,357.5 502.5,360.0 503.0,359.8 503.5,358.5 504.0,358.0 504.5,357.4 505.0,356.4 505.5,357.1 506.0,358.9 506.5,358.2 507.0,357.4 507.5,356.6 508.0,355.9 508.5,355.1 509.0,354.3 509.5,353.6 510.0,352.8 510.5,353.0 511.0,353.7 511.5,354.5 512.0,355.3 512.5,356.0 513.0,356.8 513.5,357.6 514.0,358.3 514.5,358.3 515.0,356.0 515.5,358.2 516.0,357.0 516.5,358.7 517.0,357.9 517.5,359.3 518.0,358.6 518.5,359.2 519.0,357.4 519.5,358.6 520.0,359.0 520.5,359.3 521.0,357.4 521.5,359.4 522.0,359.5 522.5,358.8 523.0,359.9 523.5,359.8 524.0,358.1 524.5,358.1 525.0,356.7 525.5,359.3 526.0,359.7 526.5,357.9 527.0,358.8 527.5,358.9 528.0,358.9 528.5,356.7 529.0,359.1 529.5,358.3 530.0,358.7 530.5,357.7 531.0,358.5 531.5,359.1 532.0,358.5 532.5,358.9 533.0,356.1 533.5,356.6 534.0,357.8 534.5,358.6 535.0,356.9 535.5,358.7 536.0,358.5 536.5,356.2 537.0,357.9 537.5,356.9 538.0,356.2 538.5,356.5 539.0,357.3 539.5,356.7 540.0,356.8 540.5,356.1 541.0,357.9 541.5,357.5 542.0,358.4 542.5,358.4 543.0,357.0 543.5,359.6 544.0,356.0 544.5,357.6 545.0,357.1 545.5,357.6 546.0,356.5 546.5,359.3 547.0,357.5 547.5,356.1 548.0,358.5 548.5,356.4 549.0,358.2 549.5,357.4 550.0,358.3 550.5,359.8 551.0,359.3 551.5,357.7 552.0,359.3 552.5,358.6 553.0,357.5 553.5,356.6 554.0,358.4 554.5,358.3 555.0,359.8 555.5,359.9 556.0,358.4 556.5,357.4 557.0,359.6 557.5,356.0 558.0,356.4 558.5,358.3 559.0,358.5 559.5,356.6 560.0,358.5 560.5,359.6 561.0,357.5 561.5,357.7 562.0,356.9 562.5,357.2 563.0,359.9 563.5,357.5 564.0,359.8 564.5,359.1 565.0,358.3 565.5,357.0 566.0,356.8 566.5,356.0 567.0,355.3 567.5,354.5 568.0,353.7 568.5,353.0 569.0,352.8 569.5,353.6 570.0,354.3 570.5,355.1 571.0,355.9 571.5,356.6 572.0,357.4 572.5,358.2 573.0,356.1 573.5,358.1 574.0,357.1 574.5,359.7 575.0,359.1 575.5,357.0 576.0,357.1 576.5,356.6 577.0,360.0 577.5,357.2 578.0,358.4 578.5,357.9 579.0,358.6 579.5,358.4 580.0,359.0 580.5,356.5 581.0,359.0 581.5,357.2 582.0,358.1 582.5,357.3 583.0,357.2 583.5,358.1 584.0,357.9 584.5,357.4 585.0,359.0 585.5,358.4 586.0,356.1 586.5,357.0 587.0,357.8 587.5,359.7 588.0,359.6 588.5,358.2 589.0,356.1 589.5,359.1 590.0,357.7 590.5,358.3 591.0,358.8 591.5,358.5 592.0,357.9 592.5,359.6 593.0,357.5 593.5,357.6 594.0,359.4 594.5,356.8 595.0,357.2 595.5,359.3 596.0,356.3 596.5,359.3 597.0,358.8 597.5,357.7 598.0,357.1 598.5,359.1 599.0,359.6 599.5,356.6 600.0,357.9 600.5,358.2 601.0,358.0 601.5,357.3 602.0,356.6 602.5,358.3 603.0,359.2 603.5,356.3 604.0,356.9 604.5,359.3 605.0,359.2 605.5,358.7 606.0,356.1 606.5,358.9 607.0,359.9 607.5,360.0 608.0,358.8 608.5,356.2 609.0,359.4 609.5,356.9 610.0,358.6 610.5,359.8 611.0,358.8 611.5,356.5 612.0,357.2 612.5,359.7 613.0,356.6 613.5,358.4 614.0,357.7 614.5,356.6 615.0,358.5 615.5,356.2 616.0,356.4 616.5,357.5 617.0,356.3 617.5,356.2 618.0,358.3 618.5,359.0 619.0,359.5 619.5,356.5 620.0,357.7 620.5,357.3 621.0,358.4 621.5,358.0 622.0,359.8 622.5,357.5 623.0,356.2 623.5,357.9 624.0,356.6 624.5,356.3 625.0,355.6 625.5,354.8 626.0,354.0 626.5,353.3 627.0,352.5 627.5,353.3 628.0,354.0 628.5,354.8 629.0,355.6 629.5,356.3 630.0,356.9 630.5,357.5 631.0,358.6 631.5,356.7 632.0,358.9 632.5,358.6 633.0,356.3 633.5,358.7 634.0,356.4 634.5,356.5 635.0,358.4 635.5,357.0 636.0,359.5 636.5,357.9 637.0,357.3 637.5,359.2 638.0,356.1 638.5,358.9 639.0,356.2 639.5,356.6 640.0,359.8 640.5,358.7 641.0,356.9 641.5,356.5 642.0,359.9 642.5,358.7 643.0,359.3 643.5,356.6 644.0,358.5 644.5,357.4 645.0,356.9 645.5,357.3 646.0,358.5 646.5,357.4 647.0,357.5 647.5,356.5 648.0,359.3 648.5,358.6 649.0,359.2 649.5,357.7 650.0,359.4 650.5,358.1 651.0,358.4 651.5,358.3 652.0,359.0 652.5,357.6 653.0,356.4 653.5,356.1 654.0,356.8 654.5,356.2 655.0,359.6 655.5,357.9 656.0,359.0 656.5,356.0 657.0,357.9 657.5,359.6 658.0,358.5 658.5,357.7 659.0,357.9 659.5,356.4 660.0,356.6 660.5,356.6 661.0,357.5 661.5,357.5 662.0,359.5 662.5,356.6 663.0,357.0 663.5,357.1 664.0,356.6 664.5,357.1 665.0,356.9 665.5,357.9 666.0,356.1 666.5,359.7 667.0,357.5 667.5,359.8 668.0,358.8 668.5,358.7 669.0,357.9 669.5,359.8 670.0,356.5 670.5,358.7 671.0,357.2 671.5,358.7 672.0,358.9 672.5,356.7 673.0,356.8 673.5,356.1 674.0,356.9 674.5,356.3 675.0,357.6 675.5,359.9 676.0,357.5 676.5,357.2 677.0,357.9 677.5,357.1 678.0,358.9 678.5,358.9 679.0,356.7 679.5,357.0 680.0,358.7 680.5,359.8 681.0,358.6 681.5,357.7 682.0,359.9 682.5,356.0 683.0,356.2 683.5,359.1 684.0,357.6 684.5,356.2 685.0,358.2 685.5,360.0 686.0,358.1 686.5,357.4 687.0,356.4 687.5,356.3 688.0,359.6 688.5,358.0 689.0,359.7 689.5,356.2 690.0,357.0 690.5,356.2 691.0,357.6 691.5,356.2 692.0,357.0 692.5,357.6 693.0,357.2 693.5,356.2 694.0,356.2 694.5,359.9 694.5,362.2 694.0,362.7 693.5,362.0 693.0,362.0 692.5,363.8 692.0,363.7 691.5,361.8 691.0,362.9 690.5,362.6 690.0,363.4 689.5,362.5 689.0,363.6 688.5,362.1 688.0,362.0 687.5,363.6 687.0,362.1 686.5,362.3 686.0,362.7 685.5,362.3 685.0,363.3 684.5,362.2 684.0,362.6 683.5,362.7 683.0,363.5 682.5,363.8 682.0,363.5 681.5,362.8 681.0,363.2 680.5,363.4 680.0,362.4 679.5,362.6 679.0,361.9 678.5,362.4 678.0,362.4 677.5,363.5 677.0,361.9 676.5,362.1 676.0,363.7 675.5,363.1 675.0,362.7 674.5,366.0 674.0,363.1 673.5,363.4 673.0,363.0 672.5,363.4 672.0,363.9 671.5,362.1 671.0,363.8 670.5,362.8 670.0,363.5 669.5,363.0 669.0,363.1 668.5,363.6 668.0,361.9 667.5,361.9 667.0,362.9 666.5,362.7 666.0,362.4 665.5,363.0 665.0,363.5 664.5,362.6 664.0,364.0 663.5,363.7 663.0,362.7 662.5,363.6 662.0,361.9 661.5,362.0 661.0,363.8 660.5,363.6 660.0,363.3 659.5,363.2 659.0,366.0 658.5,362.9 658.0,362.2 657.5,366.0 657.0,362.5 656.5,362.8 656.0,362.7 655.5,363.6 655.0,363.3 654.5,363.0 654.0,362.6 653.5,363.3 653.0,362.4 652.5,362.0 652.0,363.1 651.5,363.4 651.0,363.8 650.5,363.4 650.0,363.5 649.5,363.9 649.0,363.3 648.5,363.4 648.0,362.3 647.5,363.8 647.0,363.9 646.5,366.0 646.0,362.7 645.5,363.2 645.0,363.8 644.5,362.7 644.0,363.3 643.5,363.4 643.0,363.8 642.5,362.5 642.0,363.2 641.5,362.2 641.0,363.5 640.5,361.9 640.0,363.6 639.5,363.4 639.0,362.7 638.5,363.8 638.0,362.4 637.5,363.9 637.0,361.9 636.5,363.0 636.0,362.2 635.5,363.1 635.0,363.3 634.5,361.9 634.0,363.6 633.5,362.5 633.0,363.2 632.5,366.0 632.0,364.1 631.5,364.0 631.0,365.8 630.5,365.9 630.0,366.4 629.5,363.8 629.0,364.1 628.5,365.5 628.0,364.7 627.5,363.9 627.0,365.6 626.5,366.3 626.0,365.7 625.5,364.9 625.0,366.3 624.5,365.0 624.0,365.2 623.5,366.0 623.0,364.8 622.5,363.7 622.0,364.9 621.5,364.7 621.0,363.9 620.5,362.6 620.0,361.8 619.5,366.0 619.0,362.4 618.5,362.6 618.0,361.9 617.5,363.9 617.0,362.8 616.5,362.4 616.0,363.3 615.5,361.9 615.0,363.5 614.5,363.1 614.0,363.2 613.5,366.0 613.0,363.5 612.5,363.7 612.0,363.8 611.5,364.0 611.0,363.8 610.5,363.5 610.0,363.9 609.5,362.3 609.0,362.4 608.5,362.4 608.0,362.1 607.5,362.8 607.0,362.6 606.5,363.7 606.0,361.8 605.5,363.9 605.0,362.1 604.5,363.8 604.0,361.9 603.5,362.7 603.0,363.5 602.5,363.5 602.0,362.9 601.5,363.3 601.0,362.0 600.5,362.6 600.0,362.9 599.5,363.9 599.0,363.1 598.5,363.0 598.0,362.1 597.5,366.0 597.0,363.5 596.5,362.9 596.0,363.5 595.5,362.9 595.0,362.6 594.5,361.8 594.0,362.8 593.5,363.8 593.0,363.0 592.5,363.9 592.0,364.0 591.5,362.2 591.0,362.0 590.5,363.4 590.0,362.7 589.5,362.5 589.0,363.6 588.5,362.6 588.0,363.0 587.5,362.8 587.0,362.0 586.5,362.1 586.0,362.4 585.5,363.5 585.0,362.4 584.5,363.2 584.0,363.2 583.5,362.4 583.0,362.8 582.5,362.2 582.0,361.9 581.5,366.0 581.0,361.9 580.5,362.9 580.0,361.9 579.5,362.1 579.0,363.1 578.5,362.3 578.0,362.0 577.5,363.3 577.0,361.9 576.5,363.2 576.0,363.4 575.5,363.2 575.0,362.1 574.5,363.5 574.0,366.2 573.5,364.1 573.0,364.1 572.5,363.7 572.0,365.5 571.5,365.0 571.0,365.2 570.5,364.3 570.0,366.2 569.5,364.8 569.0,364.4 568.5,364.6 568.0,365.4 567.5,363.8 567.0,363.8 566.5,365.2 566.0,364.7 565.5,364.3 565.0,363.8 564.5,364.7 564.0,364.4 563.5,365.9 563.0,363.8 562.5,362.7 562.0,361.9 561.5,362.4 561.0,362.9 560.5,363.9 560.0,362.0 559.5,362.1 559.0,362.0 558.5,363.0 558.0,362.4 557.5,363.9 557.0,362.3 556.5,363.8 556.0,363.2 555.5,362.5 555.0,363.0 554.5,361.9 554.0,362.8 553.5,363.8 553.0,362.9 552.5,363.4 552.0,362.8 551.5,363.1 551.0,362.2 550.5,363.4 550.0,364.0 549.5,362.2 549.0,362.8 548.5,363.7 548.0,363.3 547.5,363.1 547.0,362.6 546.5,363.4 546.0,363.5 545.5,363.1 545.0,362.9 544.5,363.8 544.0,362.5 543.5,362.1 543.0,362.7 542.5,362.1 542.0,363.5 541.5,361.8 541.0,362.5 540.5,363.3 540.0,363.6 539.5,362.5 539.0,362.9 538.5,363.2 538.0,362.2 537.5,361.8 537.0,363.5 536.5,361.9 536.0,362.9 535.5,362.2 535.0,363.7 534.5,363.6 534.0,362.6 533.5,362.3 533.0,361.8 532.5,363.1 532.0,362.9 531.5,362.5 531.0,362.6 530.5,363.5 530.0,363.3 529.5,362.4 529.0,362.1 528.5,361.8 528.0,362.0 527.5,362.8 527.0,362.8 526.5,361.9 526.0,363.5 525.5,363.6 525.0,363.4 524.5,366.0 524.0,363.7 523.5,362.2 523.0,362.5 522.5,362.6 522.0,366.0 521.5,362.7 521.0,363.4 520.5,362.2 520.0,363.8 519.5,362.3 519.0,362.8 518.5,361.9 518.0,363.5 517.5,363.7 517.0,363.5 516.5,363.8 516.0,365.5 515.5,364.8 515.0,364.3 514.5,364.1 514.0,364.6 513.5,364.6 513.0,363.5 512.5,363.8 512.0,366.4 511.5,366.3 511.0,363.5 510.5,365.8 510.0,364.9 509.5,365.1 509.0,364.8 508.5,364.4 508.0,365.1 507.5,365.3 507.0,364.7 506.5,365.8 506.0,363.9 505.5,365.4 505.0,363.6 504.5,364.8 504.0,362.1 503.5,362.8 503.0,363.3 502.5,362.4 502.0,362.5 501.5,362.4 501.0,362.6 500.5,362.0 500.0,362.3 499.5,362.8 499.0,363.7 498.5,363.3 498.0,363.7 497.5,362.3 497.0,362.4 496.5,362.9 496.0,362.9 495.5,363.1 495.0,363.2 494.5,362.7 494.0,362.1 493.5,363.7 493.0,362.6 492.5,363.1 492.0,362.8 491.5,361.9 491.0,363.5 490.5,361.9 490.0,363.2 489.5,363.2 489.0,362.8 488.5,362.5 488.0,362.9 487.5,363.7 487.0,363.7 486.5,362.8 486.0,363.2 485.5,363.7 485.0,363.5 484.5,363.9 484.0,363.7 483.5,362.1 483.0,363.4 482.5,362.4 482.0,362.7 481.5,362.7 481.0,363.2 480.5,363.1 480.0,362.4 479.5,363.6 479.0,362.3 478.5,363.1 478.0,363.8 477.5,362.5 477.0,363.1 476.5,363.9 476.0,362.9 475.5,363.0 475.0,362.3 474.5,363.5 474.0,362.8 473.5,362.1 473.0,364.0 472.5,362.3 472.0,362.0 471.5,363.4 471.0,363.6 470.5,362.4 470.0,362.4 469.5,362.2 469.0,366.0 468.5,362.5 468.0,363.7 467.5,363.4 467.0,363.0 466.5,363.1 466.0,361.9 465.5,362.8 465.0,362.0 464.5,362.6 464.0,362.9 463.5,363.4 463.0,362.5 462.5,362.5 462.0,363.7 461.5,362.4 461.0,361.8 460.5,366.0 460.0,362.5 459.5,362.3 459.0,363.1 458.5,363.4 458.0,365.3 457.5,365.0 457.0,365.6 456.5,364.9 456.0,365.7 455.5,365.1 455.0,365.2 454.5,364.4 454.0,365.3 453.5,364.8 453.0,363.8 452.5,365.0 452.0,364.3 451.5,366.2 451.0,365.6 450.5,364.2 450.0,364.8 449.5,365.0 449.0,365.7 448.5,365.8 448.0,363.6 447.5,364.5 447.0,365.3 446.5,363.2 446.0,363.8 445.5,363.4 445.0,362.3 444.5,363.2 444.0,363.5 443.5,362.9 443.0,363.4 442.5,362.8 442.0,362.8 441.5,364.0 441.0,363.4 440.5,362.0 440.0,363.2 439.5,363.5 439.0,362.1 438.5,363.2 438.0,363.9 437.5,363.6 437.0,362.7 436.5,363.9 436.0,362.5 435.5,363.0 435.0,363.2" fill="#f01818"/>
<polygon points="435.0,351.9 435.5,351.4 436.0,351.8 436.5,350.3 437.0,351.0 437.5,350.3 438.0,352.4 438.5,350.9 439.0,350.8 439.5,351.6 440.0,351.3 440.5,350.8 441.0,350.2 441.5,350.6 442.0,352.0 442.5,351.1 443.0,350.9 443.5,351.3 444.0,350.9 444.5,349.0 445.0,347.9 445.5,348.4 446.0,347.7 446.5,346.8 447.0,345.7 447.5,342.5 448.0,343.8 448.5,342.2 449.0,339.4 449.5,339.5 450.0,339.5 450.5,338.7 451.0,336.0 451.5,335.3 452.0,334.3 452.5,334.5 453.0,334.0 453.5,334.8 454.0,335.5 454.5,338.7 455.0,338.6 455.5,340.0 456.0,340.3 456.5,340.5 457.0,342.4 457.5,344.1 458.0,344.1 458.5,345.7 459.0,347.6 459.5,346.8 460.0,349.8 460.5,349.4 461.0,349.8 461.5,352.4 462.0,350.3 462.5,352.2 463.0,350.7 463.5,350.4 464.0,350.6 464.5,352.3 465.0,351.4 465.5,350.5 466.0,352.3 466.5,352.3 467.0,352.6 467.5,352.4 468.0,352.4 468.5,350.4 469.0,351.8 469.5,346.1 470.0,351.0 470.5,350.7 471.0,351.1 471.5,351.2 472.0,351.6 472.5,348.5 473.0,350.4 473.5,352.0 474.0,351.7 474.5,351.9 475.0,350.7 475.5,348.8 476.0,352.5 476.5,351.2 477.0,352.1 477.5,350.6 478.0,346.6 478.5,350.7 479.0,351.1 479.5,350.9 480.0,351.4 480.5,351.8 481.0,352.5 481.5,352.1 482.0,351.7 482.5,352.1 483.0,350.7 483.5,347.6 484.0,351.0 484.5,347.5 485.0,351.1 485.5,351.8 486.0,351.9 486.5,352.6 487.0,351.6 487.5,350.9 488.0,351.7 488.5,350.5 489.0,350.9 489.5,352.0 490.0,350.8 490.5,352.5 491.0,351.3 491.5,351.8 492.0,350.4 492.5,351.6 493.0,352.5 493.5,352.2 494.0,351.4 494.5,351.3 495.0,352.0 495.5,350.5 496.0,351.5 496.5,351.5 497.0,351.6 497.5,350.5 498.0,351.0 498.5,352.2 499.0,352.0 499.5,350.5 500.0,350.7 500.5,351.9 501.0,350.2 501.5,352.1 502.0,352.6 502.5,351.4 503.0,350.4 503.5,348.9 504.0,349.2 504.5,348.5 505.0,348.0 505.5,346.8 506.0,346.8 506.5,344.6 507.0,344.7 507.5,344.8 508.0,344.5 508.5,342.7 509.0,342.9 509.5,342.7 510.0,341.2 510.5,342.2 511.0,342.7 511.5,343.6 512.0,343.6 512.5,345.0 513.0,344.3 513.5,345.6 514.0,346.6 514.5,345.7 515.0,347.1 515.5,347.4 516.0,348.1 516.5,348.3 517.0,350.6 517.5,349.8 518.0,352.0 518.5,350.7 519.0,352.5 519.5,350.6 520.0,344.5 520.5,351.1 521.0,351.4 521.5,351.5 522.0,351.0 522.5,351.5 523.0,351.6 523.5,351.6 524.0,350.4 524.5,352.3 525.0,350.2 525.5,351.7 526.0,351.9 526.5,350.5 527.0,351.9 527.5,350.8 528.0,352.4 528.5,350.7 529.0,352.5 529.5,350.7 530.0,351.1 530.5,351.8 531.0,351.6 531.5,350.7 532.0,351.2 532.5,350.5 533.0,350.8 533.5,350.5 534.0,352.6 534.5,352.2 535.0,351.9 535.5,351.2 536.0,350.8 536.5,350.6 537.0,351.5 537.5,350.8 538.0,350.5 538.5,350.4 539.0,350.8 539.5,350.8 540.0,352.5 540.5,350.7 541.0,351.3 541.5,351.3 542.0,350.8 542.5,351.1 543.0,351.9 543.5,350.3 544.0,351.2 544.5,346.6 545.0,352.3 545.5,351.9 546.0,351.6 546.5,352.1 547.0,351.4 547.5,351.5 548.0,350.9 548.5,351.4 549.0,352.6 549.5,344.8 550.0,351.0 550.5,351.5 551.0,350.4 551.5,350.5 552.0,352.0 552.5,350.6 553.0,350.5 553.5,351.8 554.0,351.9 554.5,350.8 555.0,351.1 555.5,352.4 556.0,352.1 556.5,350.4 557.0,351.6 557.5,350.8 558.0,351.1 558.5,351.2 559.0,351.7 559.5,351.0 560.0,350.6 560.5,350.0 561.0,351.0 561.5,349.5 562.0,348.5 562.5,346.7 563.0,346.6 563.5,345.6 564.0,345.2 564.5,343.4 565.0,343.2 565.5,342.2 566.0,341.6 566.5,340.2 567.0,339.7 567.5,338.1 568.0,338.8 568.5,337.4 569.0,336.7 569.5,337.0 570.0,339.6 570.5,338.5 571.0,340.0 571.5,341.8 572.0,341.3 572.5,342.7 573.0,344.0 573.5,345.1 574.0,345.4 574.5,345.6 575.0,348.5 575.5,348.6 576.0,349.6 576.5,350.7 577.0,350.7 577.5,352.4 578.0,350.4 578.5,352.5 579.0,352.4 579.5,350.5 580.0,351.2 580.5,350.8 581.0,352.1 581.5,351.2 582.0,351.1 582.5,351.0 583.0,352.5 583.5,350.5 584.0,352.2 584.5,352.3 585.0,350.4 585.5,351.1 586.0,351.5 586.5,351.7 587.0,350.8 587.5,351.1 588.0,352.1 588.5,350.7 589.0,351.4 589.5,352.6 590.0,351.5 590.5,350.9 591.0,352.5 591.5,350.8 592.0,351.7 592.5,351.8 593.0,352.1 593.5,352.2 594.0,350.6 594.5,350.5 595.0,352.6 595.5,350.8 596.0,352.2 596.5,350.9 597.0,350.5 597.5,351.2 598.0,350.5 598.5,350.9 599.0,352.5 599.5,350.9 600.0,351.0 600.5,351.2 601.0,352.0 601.5,352.0 602.0,350.6 602.5,345.8 603.0,350.9 603.5,352.3 604.0,346.0 604.5,351.9 605.0,351.8 605.5,351.1 606.0,350.3 606.5,352.0 607.0,350.7 607.5,351.4 608.0,352.0 608.5,352.2 609.0,350.5 609.5,352.2 610.0,351.1 610.5,350.9 611.0,352.6 611.5,352.5 612.0,352.6 612.5,350.7 613.0,350.6 613.5,351.6 614.0,351.4 614.5,352.5 615.0,350.7 615.5,351.6 616.0,352.6 616.5,351.7 617.0,351.5 617.5,351.0 618.0,347.4 618.5,352.6 619.0,350.6 619.5,350.1 620.0,348.9 620.5,349.0 621.0,347.8 621.5,345.7 622.0,345.1 622.5,345.9 623.0,344.7 623.5,342.9 624.0,341.6 624.5,342.0 625.0,340.9 625.5,340.2 626.0,339.7 626.5,338.4 627.0,336.8 627.5,337.2 628.0,340.1 628.5,340.0 629.0,341.6 629.5,341.3 630.0,343.5 630.5,342.3 631.0,344.3 631.5,345.3 632.0,346.2 632.5,346.7 633.0,348.3 633.5,348.7 634.0,349.5 634.5,349.9 635.0,350.5 635.5,350.4 636.0,350.8 636.5,351.0 637.0,350.3 637.5,350.3 638.0,351.2 638.5,351.2 639.0,350.3 639.5,350.2 640.0,351.9 640.5,350.6 641.0,352.5 641.5,350.5 642.0,352.3 642.5,351.8 643.0,351.7 643.5,351.4 644.0,351.4 644.5,352.5 645.0,351.4 645.5,351.4 646.0,351.8 646.5,350.7 647.0,346.1 647.5,352.5 648.0,351.1 648.5,351.9 649.0,351.2 649.5,350.9 650.0,351.2 650.5,351.0 651.0,350.7 651.5,345.1 652.0,351.3 652.5,352.1 653.0,352.1 653.5,350.7 654.0,350.5 654.5,350.7 655.0,350.5 655.5,350.7 656.0,351.6 656.5,350.3 657.0,351.5 657.5,351.4 658.0,352.2 658.5,346.6 659.0,350.3 659.5,351.4 660.0,352.2 660.5,351.9 661.0,351.9 661.5,350.7 662.0,351.3 662.5,350.7 663.0,351.3 663.5,352.2 664.0,351.6 664.5,350.8 665.0,344.6 665.5,351.3 666.0,351.3 666.5,350.8 667.0,351.6 667.5,350.7 668.0,351.7 668.5,351.2 669.0,351.1 669.5,352.5 670.0,352.2 670.5,351.2 671.0,352.2 671.5,351.2 672.0,352.0 672.5,350.8 673.0,351.8 673.5,352.4 674.0,351.4 674.5,350.5 675.0,352.6 675.5,350.6 676.0,350.3 676.5,351.2 677.0,345.9 677.5,350.8 678.0,350.3 678.5,351.0 679.0,351.5 679.5,350.5 680.0,352.4 680.5,351.5 681.0,352.3 681.5,351.6 682.0,351.1 682.5,351.6 683.0,351.2 683.5,351.2 684.0,351.1 684.5,350.6 685.0,351.2 685.5,352.1 686.0,350.4 686.5,346.1 687.0,352.3 687.5,351.2 688.0,350.9 688.5,352.4 689.0,352.5 689.5,350.4 690.0,344.9 690.5,352.4 691.0,350.5 691.5,352.6 692.0,350.9 692.5,346.6 693.0,352.1 693.5,351.4 694.0,352.1 694.5,352.3 694.5,367.3 694.0,360.8 693.5,361.7 693.0,360.7 692.5,361.8 692.0,361.1 691.5,362.0 691.0,361.1 690.5,361.8 690.0,361.4 689.5,361.0 689.0,361.4 688.5,361.3 688.0,360.8 687.5,361.5 687.0,361.5 686.5,361.7 686.0,361.1 685.5,361.6 685.0,360.9 684.5,367.3 684.0,367.3 683.5,367.3 683.0,367.3 682.5,361.4 682.0,361.0 681.5,361.9 681.0,360.9 680.5,361.1 680.0,360.7 679.5,361.1 679.0,361.5 678.5,361.0 678.0,360.8 677.5,362.0 677.0,361.1 676.5,360.9 676.0,361.2 675.5,361.9 675.0,361.8 674.5,362.0 674.0,361.5 673.5,361.1 673.0,367.3 672.5,367.3 672.0,367.3 671.5,361.4 671.0,360.7 670.5,361.7 670.0,361.9 669.5,362.1 669.0,361.9 668.5,361.6 668.0,361.9 667.5,361.1 667.0,361.5 666.5,360.9 666.0,362.1 665.5,361.4 665.0,360.9 664.5,362.2 664.0,361.6 663.5,360.9 663.0,362.0 662.5,361.6 662.0,367.3 661.5,367.3 661.0,367.3 660.5,367.3 660.0,361.6 659.5,362.0 659.0,361.1 658.5,361.0 658.0,361.5 657.5,360.9 657.0,361.7 656.5,361.4 656.0,360.9 655.5,360.8 655.0,360.9 654.5,361.5 654.0,362.1 653.5,361.9 653.0,362.0 652.5,361.5 652.0,361.9 651.5,361.1 651.0,361.2 650.5,367.3 650.0,367.3 649.5,367.3 649.0,367.3 648.5,362.0 648.0,361.0 647.5,361.6 647.0,361.5 646.5,360.7 646.0,361.5 645.5,361.9 645.0,362.0 644.5,361.3 644.0,362.0 643.5,360.7 643.0,362.1 642.5,361.7 642.0,361.9 641.5,361.3 641.0,361.5 640.5,361.9 640.0,361.0 639.5,367.3 639.0,367.3 638.5,367.3 638.0,367.3 637.5,360.9 637.0,361.8 636.5,362.0 636.0,361.0 635.5,361.5 635.0,361.4 634.5,361.1 634.0,361.9 633.5,361.1 633.0,361.8 632.5,356.4 632.0,354.0 631.5,352.8 631.0,349.1 630.5,347.0 630.0,348.0 629.5,346.5 629.0,346.1 628.5,344.8 628.0,346.5 627.5,342.2 627.0,342.8 626.5,343.3 626.0,344.3 625.5,344.8 625.0,345.7 624.5,348.4 624.0,347.0 623.5,347.9 623.0,349.3 622.5,352.7 622.0,353.4 621.5,355.7 621.0,361.3 620.5,361.7 620.0,361.1 619.5,361.5 619.0,360.9 618.5,361.5 618.0,360.7 617.5,362.1 617.0,362.1 616.5,367.3 616.0,367.3 615.5,367.3 615.0,367.3 614.5,361.5 614.0,361.4 613.5,361.2 613.0,361.8 612.5,361.5 612.0,361.7 611.5,361.3 611.0,361.2 610.5,361.8 610.0,360.9 609.5,361.1 609.0,361.0 608.5,360.9 608.0,362.0 607.5,361.1 607.0,361.8 606.5,360.7 606.0,362.1 605.5,367.3 605.0,367.3 604.5,367.3 604.0,367.3 603.5,361.3 603.0,361.8 602.5,360.8 602.0,361.6 601.5,361.9 601.0,361.1 600.5,360.7 600.0,361.2 599.5,361.8 599.0,361.8 598.5,360.7 598.0,361.1 597.5,362.1 597.0,361.1 596.5,360.7 596.0,362.0 595.5,361.9 595.0,361.3 594.5,361.7 594.0,367.3 593.5,367.3 593.0,367.3 592.5,367.3 592.0,361.8 591.5,361.9 591.0,360.9 590.5,361.8 590.0,362.1 589.5,361.9 589.0,361.4 588.5,361.2 588.0,362.2 587.5,362.2 587.0,361.9 586.5,361.4 586.0,362.0 585.5,362.0 585.0,361.4 584.5,360.8 584.0,361.6 583.5,360.8 583.0,367.3 582.5,367.3 582.0,367.3 581.5,367.3 581.0,361.1 580.5,361.5 580.0,361.4 579.5,361.6 579.0,361.9 578.5,362.1 578.0,361.1 577.5,362.1 577.0,361.1 576.5,361.2 576.0,361.8 575.5,362.2 575.0,361.4 574.5,357.0 574.0,355.1 573.5,352.2 573.0,349.8 572.5,349.1 572.0,345.9 571.5,346.6 571.0,346.2 570.5,344.2 570.0,345.0 569.5,343.1 569.0,342.1 568.5,342.1 568.0,344.0 567.5,344.1 567.0,345.5 566.5,345.6 566.0,346.2 565.5,348.6 565.0,347.9 564.5,348.9 564.0,353.5 563.5,355.7 563.0,357.6 562.5,361.2 562.0,361.8 561.5,361.7 561.0,361.5 560.5,361.9 560.0,367.3 559.5,367.3 559.0,367.3 558.5,367.3 558.0,361.5 557.5,361.5 557.0,361.0 556.5,361.8 556.0,360.8 555.5,360.8 555.0,361.6 554.5,360.7 554.0,362.0 553.5,360.9 553.0,361.3 552.5,361.0 552.0,361.4 551.5,361.6 551.0,360.9 550.5,361.5 550.0,362.2 549.5,360.8 549.0,367.3 548.5,367.3 548.0,367.3 547.5,367.3 547.0,360.9 546.5,360.9 546.0,360.8 545.5,360.6 545.0,362.1 544.5,362.1 544.0,360.7 543.5,361.9 543.0,361.5 542.5,360.9 542.0,362.0 541.5,360.8 541.0,361.6 540.5,361.7 540.0,361.7 539.5,361.0 539.0,360.8 538.5,361.6 538.0,361.1 537.5,367.3 537.0,367.3 536.5,367.3 536.0,367.3 535.5,361.6 535.0,361.8 534.5,360.7 534.0,361.8 533.5,362.2 533.0,361.2 532.5,361.5 532.0,361.1 531.5,362.0 531.0,361.0 530.5,360.8 530.0,361.4 529.5,361.3 529.0,361.5 528.5,360.9 528.0,362.1 527.5,361.5 527.0,361.2 526.5,367.3 526.0,367.3 525.5,367.3 525.0,367.3 524.5,361.8 524.0,360.7 523.5,362.1 523.0,361.9 522.5,361.0 522.0,361.3 521.5,360.7 521.0,361.9 520.5,362.2 520.0,361.6 519.5,362.2 519.0,361.4 518.5,362.0 518.0,361.9 517.5,362.1 517.0,361.3 516.5,361.4 516.0,357.7 515.5,356.8 515.0,353.9 514.5,351.7 514.0,352.4 513.5,350.5 513.0,349.5 512.5,350.1 512.0,348.1 511.5,348.9 511.0,347.9 510.5,348.1 510.0,347.1 509.5,349.1 509.0,349.1 508.5,347.8 508.0,350.2 507.5,350.6 507.0,350.8 506.5,349.4 506.0,351.9 505.5,354.1 505.0,356.1 504.5,358.4 504.0,361.3 503.5,367.3 503.0,367.3 502.5,367.3 502.0,367.3 501.5,361.7 501.0,360.7 500.5,362.0 500.0,362.2 499.5,362.1 499.0,361.1 498.5,361.9 498.0,362.2 497.5,360.8 497.0,360.7 496.5,361.7 496.0,362.2 495.5,360.6 495.0,361.9 494.5,361.7 494.0,361.4 493.5,360.8 493.0,361.4 492.5,367.3 492.0,367.3 491.5,367.3 491.0,367.3 490.5,361.4 490.0,360.9 489.5,362.0 489.0,361.8 488.5,360.9 488.0,361.6 487.5,361.6 487.0,362.1 486.5,362.2 486.0,362.0 485.5,360.7 485.0,361.3 484.5,360.8 484.0,361.8 483.5,360.7 483.0,361.9 482.5,361.6 482.0,361.6 481.5,362.1 481.0,367.3 480.5,367.3 480.0,367.3 479.5,367.3 479.0,362.0 478.5,361.8 478.0,361.6 477.5,361.5 477.0,361.4 476.5,360.6 476.0,360.9 475.5,361.7 475.0,361.3 474.5,361.3 474.0,362.0 473.5,361.2 473.0,361.8 472.5,361.9 472.0,361.9 471.5,361.0 471.0,361.6 470.5,361.3 470.0,367.3 469.5,367.3 469.0,367.3 468.5,367.3 468.0,361.5 467.5,360.7 467.0,360.9 466.5,361.0 466.0,361.9 465.5,361.9 465.0,361.2 464.5,361.6 464.0,361.3 463.5,361.5 463.0,361.0 462.5,361.2 462.0,362.1 461.5,362.0 461.0,360.8 460.5,360.8 460.0,362.0 459.5,361.3 459.0,361.6 458.5,367.3 458.0,355.2 457.5,353.2 457.0,350.1 456.5,345.3 456.0,346.5 455.5,345.0 455.0,343.3 454.5,343.8 454.0,341.1 453.5,340.9 453.0,339.6 452.5,340.9 452.0,339.2 451.5,340.5 451.0,341.7 450.5,344.4 450.0,345.4 449.5,345.0 449.0,344.1 448.5,348.3 448.0,351.2 447.5,351.2 447.0,356.3 446.5,367.3 446.0,367.3 445.5,367.3 445.0,360.6 444.5,361.7 444.0,361.6 443.5,361.1 443.0,360.7 442.5,361.0 442.0,361.6 441.5,361.5 441.0,361.9 440.5,360.9 440.0,361.6 439.5,361.1 439.0,360.7 438.5,360.9 438.0,360.8 437.5,360.9 437.0,360.7 436.5,362.2 436.0,367.3 435.5,367.3 435.0,367.3" fill="#1414d4"/>
<line x1="448.0" y1="310.2" x2="448.0" y2="354" stroke="#1818b0" stroke-width="1.9"/>
<line x1="481.7" y1="291.7" x2="481.7" y2="354" stroke="#1818b0" stroke-width="1.9"/>
<line x1="476.5" y1="339" x2="476.5" y2="354" stroke="#1818b0" stroke-width="1.9"/>
<line x1="486.0" y1="339" x2="486.0" y2="354" stroke="#1818b0" stroke-width="1.9"/>
<line x1="549.3" y1="271.2" x2="549.3" y2="354" stroke="#1818b0" stroke-width="1.9"/>
<line x1="617.0" y1="282.6" x2="617.0" y2="354" stroke="#1818b0" stroke-width="1.9"/>
<line x1="657.0" y1="326.5" x2="657.0" y2="354" stroke="#1818b0" stroke-width="1.9"/>
<line x1="684.7" y1="272.8" x2="684.7" y2="354" stroke="#1818b0" stroke-width="1.9"/>
<line x1="692.9" y1="323" x2="692.9" y2="354" stroke="#1818b0" stroke-width="1.9"/>
<line x1="492.0" y1="347" x2="492.0" y2="354" stroke="#1818b0" stroke-width="1.9"/>
<line x1="535.7" y1="344.5" x2="535.7" y2="354" stroke="#1818b0" stroke-width="1.9"/>
<line x1="559.8" y1="332.3" x2="559.8" y2="354" stroke="#1818b0" stroke-width="1.9"/>
<line x1="584.0" y1="345.4" x2="584.0" y2="354" stroke="#1818b0" stroke-width="1.9"/>
<line x1="600.0" y1="343" x2="600.0" y2="354" stroke="#1818b0" stroke-width="1.9"/>
<line x1="612.0" y1="341" x2="612.0" y2="354" stroke="#1818b0" stroke-width="1.9"/>
<line x1="648.0" y1="345" x2="648.0" y2="354" stroke="#1818b0" stroke-width="1.9"/>
<line x1="666.0" y1="340" x2="666.0" y2="354" stroke="#1818b0" stroke-width="1.9"/>
<line x1="676.0" y1="344" x2="676.0" y2="354" stroke="#1818b0" stroke-width="1.9"/>
<line x1="689.0" y1="335" x2="689.0" y2="354" stroke="#1818b0" stroke-width="1.9"/>
<line x1="461.0" y1="338" x2="461.0" y2="354" stroke="#1818b0" stroke-width="1.9"/>
<line x1="521.0" y1="342" x2="521.0" y2="354" stroke="#1818b0" stroke-width="1.9"/>
<line x1="577.0" y1="338" x2="577.0" y2="354" stroke="#1818b0" stroke-width="1.9"/>
<line x1="636.0" y1="338" x2="636.0" y2="354" stroke="#1818b0" stroke-width="1.9"/>
<path d="M547.1,354 L548.1,324.4 L550.5,324.4 L551.5,354 Z" fill="#1818b0"/>
<path d="M479.5,354 L480.5,322 L482.9,322 L483.9,354 Z" fill="#1818b0"/>
<path d="M614.8,354 L615.8,327 L618.2,327 L619.2,354 Z" fill="#1818b0"/>
<path d="M682.5,354 L683.5,322 L685.9,322 L686.9,354 Z" fill="#1818b0"/>
<path d="M445.8,354 L446.8,335 L449.2,335 L450.2,354 Z" fill="#1818b0"/>
<path d="M654.8,354 L655.8,340 L658.2,340 L659.2,354 Z" fill="#1818b0"/>
<line x1="87.5" y1="255.8" x2="282" y2="255.8" stroke="#62b4ca" stroke-width="1.6"/>
<path d="M94.5,250.8 L87.5,255.8 L94.5,260.8" fill="none" stroke="#62b4ca" stroke-width="1.6"/>
<path d="M275,250.8 L282,255.8 L275,260.8" fill="none" stroke="#62b4ca" stroke-width="1.6"/>
<text x="107.1" y="230.6" font-size="9.8" fill="#4e9fbc" font-weight="bold" textLength="154.0" lengthAdjust="spacingAndGlyphs">Bluetooth communication band</text>
<text x="144.1" y="245.1" font-size="9.8" fill="#4e9fbc" font-weight="bold" textLength="81.2" lengthAdjust="spacingAndGlyphs" font-family="Liberation Sans, Noto Sans CJK JP, sans-serif">2402<tspan font-weight="normal">～</tspan>2480MHz</text>
<line x1="444.7" y1="250.3" x2="638.3" y2="250.3" stroke="#62b4ca" stroke-width="1.6"/>
<path d="M451.7,245.3 L444.7,250.3 L451.7,255.3" fill="none" stroke="#62b4ca" stroke-width="1.6"/>
<path d="M631.3,245.3 L638.3,250.3 L631.3,255.3" fill="none" stroke="#62b4ca" stroke-width="1.6"/>
<text x="463.9" y="224.4" font-size="9.8" fill="#4e9fbc" font-weight="bold" textLength="153.8" lengthAdjust="spacingAndGlyphs">Bluetooth communication band</text>
<text x="500.0" y="238.3" font-size="9.8" fill="#4e9fbc" font-weight="bold" textLength="82.4" lengthAdjust="spacingAndGlyphs" font-family="Liberation Sans, Noto Sans CJK JP, sans-serif">2402<tspan font-weight="normal">～</tspan>2480MHz</text>
<rect x="84" y="265.5" width="101" height="26" fill="#fff"/>
<text x="88.9" y="273.7" font-size="11" fill="#d82a34" font-weight="bold" textLength="23.0" lengthAdjust="spacingAndGlyphs">Red</text>
<text x="88.9" y="287" font-size="11" fill="#2424c0" font-weight="bold" textLength="26.8" lengthAdjust="spacingAndGlyphs">Blue</text>
<text x="118.7" y="273.7" font-size="11.5" fill="#4a4a4a" textLength="64.3" lengthAdjust="spacingAndGlyphs" stroke="#4a4a4a" stroke-width="0.35">: Power off</text>
<text x="118.2" y="287" font-size="11.5" fill="#4a4a4a" textLength="63.1" lengthAdjust="spacingAndGlyphs" stroke="#4a4a4a" stroke-width="0.35">: Power on</text>
<rect x="441" y="262.5" width="101" height="25" fill="#fff"/>
<text x="445.5" y="269.2" font-size="11" fill="#d82a34" font-weight="bold" textLength="23.0" lengthAdjust="spacingAndGlyphs">Red</text>
<text x="445.5" y="282" font-size="11" fill="#2424c0" font-weight="bold" textLength="26.8" lengthAdjust="spacingAndGlyphs">Blue</text>
<text x="475.3" y="269.2" font-size="11.5" fill="#4a4a4a" textLength="64.3" lengthAdjust="spacingAndGlyphs" stroke="#4a4a4a" stroke-width="0.35">: Power off</text>
<text x="474.8" y="282" font-size="11.5" fill="#4a4a4a" textLength="62.7" lengthAdjust="spacingAndGlyphs" stroke="#4a4a4a" stroke-width="0.35">: Power on</text>
<rect x="206.5" y="268.5" width="146" height="23.4" fill="#e6e6e6"/>
<rect x="205" y="266.8" width="145.8" height="23.8" fill="#fff" stroke="#ababab" stroke-width="1"/>
<text x="207.0" y="285" font-size="17.5" fill="#333" textLength="141.8" lengthAdjust="spacingAndGlyphs">Narrowband noise</text>
<text x="149.4" y="313.3" font-size="15.5" fill="#3434c4" textLength="58.8" lengthAdjust="spacingAndGlyphs">Hopping</text>
<rect x="570.8" y="290.8" width="144.6" height="24.4" fill="#fffafa" fill-opacity="0.86" stroke="#f0b0b0" stroke-width="1"/>
<text x="571.0" y="310.3" font-size="19" fill="#cc2a3a" textLength="141.1" lengthAdjust="spacingAndGlyphs">Wideband noise</text>
<g fill="none" stroke-linecap="round" stroke-linejoin="round">
<path d="M296.2,209.6 C293.5,214 292,220 291.2,228 C290.6,236 291.5,241 294,244.5 C297,248 304,248.6 311.5,247.2 C315,246 317.5,244.5 319.5,241.5 C322,237.5 324,233 327,228 C329,225 331.5,224 334.6,224" stroke="#3a3a3a" stroke-width="1.2"/>
<path d="M316.4,212.3 C316.6,218 316.2,226 314.5,233 C312.8,239 310.8,244 312,248.5 C313.5,252.5 318,254 324,253 C330,251.5 336,247.5 342.4,242.7 C347,239.8 352,238.5 355,236.5 C358.5,234 358.8,230.8 356,229" stroke="#3a3a3a" stroke-width="1.2"/>
<path d="M336,224.1 C343,224.6 350,226 355,228.8" stroke="#151515" stroke-width="3.8"/>
<path d="M318.9,242.2 L323.6,236" stroke="#222" stroke-width="2.2"/>
<path d="M342.4,242.7 L349.7,239.6" stroke="#222" stroke-width="2.2"/>
</g>
<g fill="#1e1e1e">
<path d="M295,201.5 C297,199.5 301,201.5 303.8,204 C305,206 304,208.4 301.5,208.3 C299,208 296,206 295,204 Z"/>
<path d="M309,208.6 C308.5,206.5 313,205 316.5,204.6 C319,204.4 320,206.2 319,207.8 C317.5,209.6 312,210.8 310.2,210.3 Z"/>
<path d="M296.8,207 L296.2,210" stroke="#1e1e1e" stroke-width="1.6"/>
<path d="M316.6,209.5 L316.4,212.5" stroke="#1e1e1e" stroke-width="1.6"/>
</g>
<g>
<ellipse cx="672" cy="255" rx="12" ry="2.2" fill="#e4e4e4"/>
<path d="M663,206 L665.5,201.8 C671,199.6 680,199 687.5,199.4 C691.5,199.8 694,201.8 695.2,205 C697.4,210 698.6,216 698.8,222 C699,228 698.4,233 697,237.5 C695.4,242 693.2,245.5 690.8,248 C688,251 685,252.6 682.5,253 L668,251.8 L663,247 Z" fill="#2e2e31"/>
<path d="M665.5,201.8 C671,199.6 680,199 687.5,199.4 L686,204 L667,205 Z" fill="#414145"/>
<rect x="655.8" y="207.9" width="27" height="37.6" rx="4.5" fill="#58585c" stroke="#38383a" stroke-width="0.8"/>
<rect x="657.8" y="210" width="23" height="33.4" rx="3.2" fill="#3e3e41"/>
<rect x="666.6" y="216.9" width="5.6" height="10.4" fill="#e6e6e6"/>
<rect x="667.4" y="218.4" width="4" height="1.2" fill="#888"/><rect x="667.4" y="221.4" width="4" height="1.2" fill="#888"/><rect x="667.4" y="224.4" width="4" height="1.2" fill="#888"/>
<rect x="682.8" y="224.5" width="2.6" height="4.8" rx="0.8" fill="#5a5a5e"/>
<ellipse cx="689" cy="233.7" rx="1.5" ry="0.9" fill="#e0e0e0"/><ellipse cx="688" cy="238.5" rx="1.5" ry="0.9" fill="#e0e0e0"/><ellipse cx="686.8" cy="243.3" rx="1.5" ry="0.9" fill="#e0e0e0"/><ellipse cx="685.6" cy="247.6" rx="1.4" ry="0.8" fill="#d0d0d0"/>
</g>
</svg>
</body></html>
